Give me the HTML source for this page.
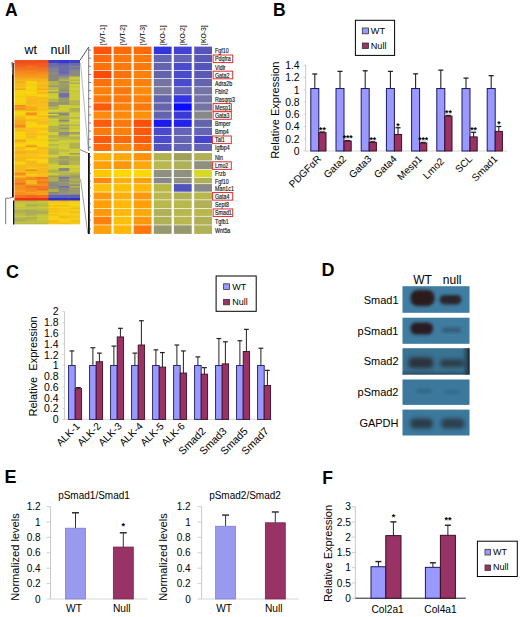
<!DOCTYPE html><html><head><meta charset="utf-8"><style>html,body{margin:0;padding:0;background:#fff;}svg{display:block;font-family:"Liberation Sans",sans-serif;}</style></head><body><svg width="520" height="617" viewBox="0 0 520 617"><rect width="520" height="617" fill="#fff"/><text x="5" y="16.4" font-size="17.5" text-anchor="start" font-weight="bold" fill="#000">A</text>
<text x="24.5" y="53.5" font-size="12.5" text-anchor="start" font-weight="normal" fill="#000">wt</text>
<text x="50.5" y="53.5" font-size="12.5" text-anchor="start" font-weight="normal" fill="#000">null</text>
<rect x="14.60" y="60.00" width="11.53" height="2.10" fill="#f14f1e"/>
<rect x="48.00" y="60.00" width="11.07" height="2.10" fill="#3c3cc3"/>
<rect x="25.73" y="60.00" width="11.53" height="2.10" fill="#f5531e"/>
<rect x="58.67" y="60.00" width="11.07" height="2.10" fill="#3535d5"/>
<rect x="36.87" y="60.00" width="11.53" height="2.10" fill="#f14f1e"/>
<rect x="69.33" y="60.00" width="10.67" height="2.10" fill="#3e3ec5"/>
<rect x="14.60" y="61.50" width="11.53" height="2.10" fill="#ef4d1e"/>
<rect x="48.00" y="61.50" width="11.07" height="2.10" fill="#4040c7"/>
<rect x="25.73" y="61.50" width="11.53" height="2.10" fill="#ef4d1e"/>
<rect x="58.67" y="61.50" width="11.07" height="2.10" fill="#3636d6"/>
<rect x="36.87" y="61.50" width="11.53" height="2.10" fill="#ee4c1e"/>
<rect x="69.33" y="61.50" width="10.67" height="2.10" fill="#4040c7"/>
<rect x="14.60" y="63.00" width="11.53" height="2.10" fill="#ee531e"/>
<rect x="48.00" y="63.00" width="11.07" height="2.10" fill="#6c6ca6"/>
<rect x="25.73" y="63.00" width="11.53" height="2.10" fill="#f0551e"/>
<rect x="58.67" y="63.00" width="11.07" height="2.10" fill="#5757c5"/>
<rect x="36.87" y="63.00" width="11.53" height="2.10" fill="#f65b1e"/>
<rect x="69.33" y="63.00" width="10.67" height="2.10" fill="#6b6ba5"/>
<rect x="14.60" y="64.50" width="11.53" height="2.10" fill="#f15f1e"/>
<rect x="48.00" y="64.50" width="11.07" height="2.10" fill="#6b6ba5"/>
<rect x="25.73" y="64.50" width="11.53" height="2.10" fill="#f4621e"/>
<rect x="58.67" y="64.50" width="11.07" height="2.10" fill="#6b6ba5"/>
<rect x="36.87" y="64.50" width="11.53" height="2.10" fill="#ef5d1e"/>
<rect x="69.33" y="64.50" width="10.67" height="2.10" fill="#6d6da7"/>
<rect x="14.60" y="66.00" width="11.53" height="2.10" fill="#ee661e"/>
<rect x="48.00" y="66.00" width="11.07" height="2.10" fill="#7272ac"/>
<rect x="25.73" y="66.00" width="11.53" height="2.10" fill="#f76e1e"/>
<rect x="58.67" y="66.00" width="11.07" height="2.10" fill="#6b6ba5"/>
<rect x="36.87" y="66.00" width="11.53" height="2.10" fill="#ed651e"/>
<rect x="69.33" y="66.00" width="10.67" height="2.10" fill="#82829b"/>
<rect x="14.60" y="67.50" width="11.53" height="2.10" fill="#f5751e"/>
<rect x="48.00" y="67.50" width="11.07" height="2.10" fill="#7d7d96"/>
<rect x="25.73" y="67.50" width="11.53" height="2.10" fill="#f3741e"/>
<rect x="58.67" y="67.50" width="11.07" height="2.10" fill="#6c6ca6"/>
<rect x="36.87" y="67.50" width="11.53" height="2.10" fill="#f1721e"/>
<rect x="69.33" y="67.50" width="10.67" height="2.10" fill="#7070aa"/>
<rect x="14.60" y="69.00" width="11.53" height="2.10" fill="#ef761e"/>
<rect x="48.00" y="69.00" width="11.07" height="2.10" fill="#82829b"/>
<rect x="25.73" y="69.00" width="11.53" height="2.10" fill="#f0761e"/>
<rect x="58.67" y="69.00" width="11.07" height="2.10" fill="#6a6aa4"/>
<rect x="36.87" y="69.00" width="11.53" height="2.10" fill="#ef761e"/>
<rect x="69.33" y="69.00" width="10.67" height="2.10" fill="#808099"/>
<rect x="14.60" y="70.50" width="11.53" height="2.10" fill="#f7841e"/>
<rect x="48.00" y="70.50" width="11.07" height="2.10" fill="#81818b"/>
<rect x="25.73" y="70.50" width="11.53" height="2.10" fill="#f8851e"/>
<rect x="58.67" y="70.50" width="11.07" height="2.10" fill="#6868b8"/>
<rect x="36.87" y="70.50" width="11.53" height="2.10" fill="#f27f1e"/>
<rect x="69.33" y="70.50" width="10.67" height="2.10" fill="#89897a"/>
<rect x="14.60" y="72.00" width="11.53" height="2.10" fill="#f5881e"/>
<rect x="48.00" y="72.00" width="11.07" height="2.10" fill="#8c8c7d"/>
<rect x="25.73" y="72.00" width="11.53" height="2.10" fill="#f1841e"/>
<rect x="58.67" y="72.00" width="11.07" height="2.10" fill="#6565b5"/>
<rect x="36.87" y="72.00" width="11.53" height="2.10" fill="#f78a1e"/>
<rect x="69.33" y="72.00" width="10.67" height="2.10" fill="#8a8a7b"/>
<rect x="14.60" y="73.50" width="11.53" height="2.10" fill="#f7911e"/>
<rect x="48.00" y="73.50" width="11.07" height="2.10" fill="#8b8b7c"/>
<rect x="25.73" y="73.50" width="11.53" height="2.10" fill="#f58f1e"/>
<rect x="58.67" y="73.50" width="11.07" height="2.10" fill="#7474ab"/>
<rect x="36.87" y="73.50" width="11.53" height="2.10" fill="#f7911e"/>
<rect x="69.33" y="73.50" width="10.67" height="2.10" fill="#8b8b7c"/>
<rect x="14.60" y="75.00" width="11.53" height="2.10" fill="#f4961d"/>
<rect x="48.00" y="75.00" width="11.07" height="2.10" fill="#82828c"/>
<rect x="25.73" y="75.00" width="11.53" height="2.10" fill="#f5971d"/>
<rect x="58.67" y="75.00" width="11.07" height="2.10" fill="#7c7cb3"/>
<rect x="36.87" y="75.00" width="11.53" height="2.10" fill="#f7991d"/>
<rect x="69.33" y="75.00" width="10.67" height="2.10" fill="#8d8d7e"/>
<rect x="14.60" y="76.50" width="11.53" height="2.10" fill="#f5a01c"/>
<rect x="48.00" y="76.50" width="11.07" height="2.10" fill="#89897a"/>
<rect x="25.73" y="76.50" width="11.53" height="2.10" fill="#f49f1c"/>
<rect x="58.67" y="76.50" width="11.07" height="2.10" fill="#999967"/>
<rect x="36.87" y="76.50" width="11.53" height="2.10" fill="#f19c1c"/>
<rect x="69.33" y="76.50" width="10.67" height="2.10" fill="#c9c936"/>
<rect x="14.60" y="78.00" width="11.53" height="2.10" fill="#f5a81c"/>
<rect x="48.00" y="78.00" width="11.07" height="2.10" fill="#888879"/>
<rect x="25.73" y="78.00" width="11.53" height="2.10" fill="#f9ad1c"/>
<rect x="58.67" y="78.00" width="11.07" height="2.10" fill="#9f9f6d"/>
<rect x="36.87" y="78.00" width="11.53" height="2.10" fill="#f6aa1c"/>
<rect x="69.33" y="78.00" width="10.67" height="2.10" fill="#cdcd3a"/>
<rect x="14.60" y="79.50" width="11.53" height="2.10" fill="#f9b51b"/>
<rect x="48.00" y="79.50" width="11.07" height="2.10" fill="#888879"/>
<rect x="25.73" y="79.50" width="11.53" height="2.10" fill="#f7b31b"/>
<rect x="58.67" y="79.50" width="11.07" height="2.10" fill="#b7b753"/>
<rect x="36.87" y="79.50" width="11.53" height="2.10" fill="#f7b31b"/>
<rect x="69.33" y="79.50" width="10.67" height="2.10" fill="#b5b551"/>
<rect x="14.60" y="81.00" width="11.53" height="2.10" fill="#f2ae1b"/>
<rect x="48.00" y="81.00" width="11.07" height="2.10" fill="#b1b14d"/>
<rect x="25.73" y="81.00" width="11.53" height="2.10" fill="#f8d310"/>
<rect x="58.67" y="81.00" width="11.07" height="2.10" fill="#969664"/>
<rect x="36.87" y="81.00" width="11.53" height="2.10" fill="#f3b81a"/>
<rect x="69.33" y="81.00" width="10.67" height="2.10" fill="#cdcd3a"/>
<rect x="14.60" y="82.50" width="11.53" height="2.10" fill="#f2b71a"/>
<rect x="48.00" y="82.50" width="11.07" height="2.10" fill="#b2b24e"/>
<rect x="25.73" y="82.50" width="11.53" height="2.10" fill="#f6d110"/>
<rect x="58.67" y="82.50" width="11.07" height="2.10" fill="#9e9e6c"/>
<rect x="36.87" y="82.50" width="11.53" height="2.10" fill="#fcc11a"/>
<rect x="69.33" y="82.50" width="10.67" height="2.10" fill="#afaf4b"/>
<rect x="14.60" y="84.00" width="11.53" height="2.10" fill="#f8bd1a"/>
<rect x="48.00" y="84.00" width="11.07" height="2.10" fill="#b2b24e"/>
<rect x="25.73" y="84.00" width="11.53" height="2.10" fill="#f3ce10"/>
<rect x="58.67" y="84.00" width="11.07" height="2.10" fill="#9e9e6c"/>
<rect x="36.87" y="84.00" width="11.53" height="2.10" fill="#f4b91a"/>
<rect x="69.33" y="84.00" width="10.67" height="2.10" fill="#cfcf3c"/>
<rect x="14.60" y="85.50" width="11.53" height="2.10" fill="#f4b91a"/>
<rect x="48.00" y="85.50" width="11.07" height="2.10" fill="#9b9b69"/>
<rect x="25.73" y="85.50" width="11.53" height="2.10" fill="#f7d210"/>
<rect x="58.67" y="85.50" width="11.07" height="2.10" fill="#9b9b69"/>
<rect x="36.87" y="85.50" width="11.53" height="2.10" fill="#f5ba1a"/>
<rect x="69.33" y="85.50" width="10.67" height="2.10" fill="#c9c936"/>
<rect x="14.60" y="87.00" width="11.53" height="2.10" fill="#fbc01a"/>
<rect x="48.00" y="87.00" width="11.07" height="2.10" fill="#b5b551"/>
<rect x="25.73" y="87.00" width="11.53" height="2.10" fill="#f9d410"/>
<rect x="58.67" y="87.00" width="11.07" height="2.10" fill="#9b9b69"/>
<rect x="36.87" y="87.00" width="11.53" height="2.10" fill="#fabf1a"/>
<rect x="69.33" y="87.00" width="10.67" height="2.10" fill="#cccc39"/>
<rect x="14.60" y="88.50" width="11.53" height="2.10" fill="#f3a51c"/>
<rect x="48.00" y="88.50" width="11.07" height="2.10" fill="#b6b652"/>
<rect x="25.73" y="88.50" width="11.53" height="2.10" fill="#f8d310"/>
<rect x="58.67" y="88.50" width="11.07" height="2.10" fill="#989866"/>
<rect x="36.87" y="88.50" width="11.53" height="2.10" fill="#f6a81c"/>
<rect x="69.33" y="88.50" width="10.67" height="2.10" fill="#d1d13e"/>
<rect x="14.60" y="90.00" width="11.53" height="2.10" fill="#f8d310"/>
<rect x="48.00" y="90.00" width="11.07" height="2.10" fill="#cece3b"/>
<rect x="25.73" y="90.00" width="11.53" height="2.10" fill="#f3ce10"/>
<rect x="58.67" y="90.00" width="11.07" height="2.10" fill="#8c8c7d"/>
<rect x="36.87" y="90.00" width="11.53" height="2.10" fill="#f2cd10"/>
<rect x="69.33" y="90.00" width="10.67" height="2.10" fill="#c9c936"/>
<rect x="14.60" y="91.50" width="11.53" height="2.10" fill="#f9d410"/>
<rect x="48.00" y="91.50" width="11.07" height="2.10" fill="#9d9d6b"/>
<rect x="25.73" y="91.50" width="11.53" height="2.10" fill="#fcd710"/>
<rect x="58.67" y="91.50" width="11.07" height="2.10" fill="#9c9c6a"/>
<rect x="36.87" y="91.50" width="11.53" height="2.10" fill="#f5ba1a"/>
<rect x="69.33" y="91.50" width="10.67" height="2.10" fill="#cbcb38"/>
<rect x="14.60" y="93.00" width="11.53" height="2.10" fill="#f6d110"/>
<rect x="48.00" y="93.00" width="11.07" height="2.10" fill="#c8c835"/>
<rect x="25.73" y="93.00" width="11.53" height="2.10" fill="#f8d310"/>
<rect x="58.67" y="93.00" width="11.07" height="2.10" fill="#7171ab"/>
<rect x="36.87" y="93.00" width="11.53" height="2.10" fill="#f7bc1a"/>
<rect x="69.33" y="93.00" width="10.67" height="2.10" fill="#cdcd3a"/>
<rect x="14.60" y="94.50" width="11.53" height="2.10" fill="#f7d210"/>
<rect x="48.00" y="94.50" width="11.07" height="2.10" fill="#cbcb38"/>
<rect x="25.73" y="94.50" width="11.53" height="2.10" fill="#f6d110"/>
<rect x="58.67" y="94.50" width="11.07" height="2.10" fill="#6e6ea8"/>
<rect x="36.87" y="94.50" width="11.53" height="2.10" fill="#fbd610"/>
<rect x="69.33" y="94.50" width="10.67" height="2.10" fill="#cccc39"/>
<rect x="14.60" y="96.00" width="11.53" height="2.10" fill="#f3ce10"/>
<rect x="48.00" y="96.00" width="11.07" height="2.10" fill="#cdcd3a"/>
<rect x="25.73" y="96.00" width="11.53" height="2.10" fill="#f8bd1a"/>
<rect x="58.67" y="96.00" width="11.07" height="2.10" fill="#6f6fa9"/>
<rect x="36.87" y="96.00" width="11.53" height="2.10" fill="#f5d010"/>
<rect x="69.33" y="96.00" width="10.67" height="2.10" fill="#cbcb38"/>
<rect x="14.60" y="97.50" width="11.53" height="2.10" fill="#f7d210"/>
<rect x="48.00" y="97.50" width="11.07" height="2.10" fill="#cbcb38"/>
<rect x="25.73" y="97.50" width="11.53" height="2.10" fill="#f9be1a"/>
<rect x="58.67" y="97.50" width="11.07" height="2.10" fill="#9d9d6b"/>
<rect x="36.87" y="97.50" width="11.53" height="2.10" fill="#f2b71a"/>
<rect x="69.33" y="97.50" width="10.67" height="2.10" fill="#cccc39"/>
<rect x="14.60" y="99.00" width="11.53" height="2.10" fill="#f7d210"/>
<rect x="48.00" y="99.00" width="11.07" height="2.10" fill="#b1b14d"/>
<rect x="25.73" y="99.00" width="11.53" height="2.10" fill="#f3b81a"/>
<rect x="58.67" y="99.00" width="11.07" height="2.10" fill="#9a9a68"/>
<rect x="36.87" y="99.00" width="11.53" height="2.10" fill="#f7bc1a"/>
<rect x="69.33" y="99.00" width="10.67" height="2.10" fill="#cbcb38"/>
<rect x="14.60" y="100.50" width="11.53" height="2.10" fill="#f9d410"/>
<rect x="48.00" y="100.50" width="11.07" height="2.10" fill="#b6b652"/>
<rect x="25.73" y="100.50" width="11.53" height="2.10" fill="#f4b91a"/>
<rect x="58.67" y="100.50" width="11.07" height="2.10" fill="#9d9d6b"/>
<rect x="36.87" y="100.50" width="11.53" height="2.10" fill="#f8bd1a"/>
<rect x="69.33" y="100.50" width="10.67" height="2.10" fill="#b1b14d"/>
<rect x="14.60" y="102.00" width="11.53" height="2.10" fill="#f7d210"/>
<rect x="48.00" y="102.00" width="11.07" height="2.10" fill="#979765"/>
<rect x="25.73" y="102.00" width="11.53" height="2.10" fill="#f3b81a"/>
<rect x="58.67" y="102.00" width="11.07" height="2.10" fill="#969664"/>
<rect x="36.87" y="102.00" width="11.53" height="2.10" fill="#f5ba1a"/>
<rect x="69.33" y="102.00" width="10.67" height="2.10" fill="#b6b652"/>
<rect x="14.60" y="103.50" width="11.53" height="2.10" fill="#f3ce10"/>
<rect x="48.00" y="103.50" width="11.07" height="2.10" fill="#999967"/>
<rect x="25.73" y="103.50" width="11.53" height="2.10" fill="#f9be1a"/>
<rect x="58.67" y="103.50" width="11.07" height="2.10" fill="#9a9a68"/>
<rect x="36.87" y="103.50" width="11.53" height="2.10" fill="#fbc01a"/>
<rect x="69.33" y="103.50" width="10.67" height="2.10" fill="#b1b14d"/>
<rect x="14.60" y="105.00" width="11.53" height="2.10" fill="#f2891e"/>
<rect x="48.00" y="105.00" width="11.07" height="2.10" fill="#989866"/>
<rect x="25.73" y="105.00" width="11.53" height="2.10" fill="#fbc01a"/>
<rect x="58.67" y="105.00" width="11.07" height="2.10" fill="#d1d13e"/>
<rect x="36.87" y="105.00" width="11.53" height="2.10" fill="#f4b91a"/>
<rect x="69.33" y="105.00" width="10.67" height="2.10" fill="#c9c936"/>
<rect x="14.60" y="106.50" width="11.53" height="2.10" fill="#f2a41c"/>
<rect x="48.00" y="106.50" width="11.07" height="2.10" fill="#b7b753"/>
<rect x="25.73" y="106.50" width="11.53" height="2.10" fill="#f7a91c"/>
<rect x="58.67" y="106.50" width="11.07" height="2.10" fill="#c8c835"/>
<rect x="36.87" y="106.50" width="11.53" height="2.10" fill="#fcc11a"/>
<rect x="69.33" y="106.50" width="10.67" height="2.10" fill="#cdcd3a"/>
<rect x="14.60" y="108.00" width="11.53" height="2.10" fill="#f1881e"/>
<rect x="48.00" y="108.00" width="11.07" height="2.10" fill="#afaf4b"/>
<rect x="25.73" y="108.00" width="11.53" height="2.10" fill="#f9ab1c"/>
<rect x="58.67" y="108.00" width="11.07" height="2.10" fill="#d1d13e"/>
<rect x="36.87" y="108.00" width="11.53" height="2.10" fill="#f9be1a"/>
<rect x="69.33" y="108.00" width="10.67" height="2.10" fill="#aeae4a"/>
<rect x="14.60" y="109.50" width="11.53" height="2.10" fill="#f2b71a"/>
<rect x="48.00" y="109.50" width="11.07" height="2.10" fill="#d2d23f"/>
<rect x="25.73" y="109.50" width="11.53" height="2.10" fill="#f8aa1c"/>
<rect x="58.67" y="109.50" width="11.07" height="2.10" fill="#caca37"/>
<rect x="36.87" y="109.50" width="11.53" height="2.10" fill="#f9be1a"/>
<rect x="69.33" y="109.50" width="10.67" height="2.10" fill="#b1b14d"/>
<rect x="14.60" y="111.00" width="11.53" height="2.10" fill="#f6d110"/>
<rect x="48.00" y="111.00" width="11.07" height="2.10" fill="#cfcf3c"/>
<rect x="25.73" y="111.00" width="11.53" height="2.10" fill="#f3ce10"/>
<rect x="58.67" y="111.00" width="11.07" height="2.10" fill="#c8c835"/>
<rect x="36.87" y="111.00" width="11.53" height="2.10" fill="#f3ce10"/>
<rect x="69.33" y="111.00" width="10.67" height="2.10" fill="#b5b551"/>
<rect x="14.60" y="112.50" width="11.53" height="2.10" fill="#fad510"/>
<rect x="48.00" y="112.50" width="11.07" height="2.10" fill="#9a9a68"/>
<rect x="25.73" y="112.50" width="11.53" height="2.10" fill="#f38a1e"/>
<rect x="58.67" y="112.50" width="11.07" height="2.10" fill="#8c8c7d"/>
<rect x="36.87" y="112.50" width="11.53" height="2.10" fill="#f4cf10"/>
<rect x="69.33" y="112.50" width="10.67" height="2.10" fill="#d0d03d"/>
<rect x="14.60" y="114.00" width="11.53" height="2.10" fill="#f7d210"/>
<rect x="48.00" y="114.00" width="11.07" height="2.10" fill="#d2d23f"/>
<rect x="25.73" y="114.00" width="11.53" height="2.10" fill="#f9901e"/>
<rect x="58.67" y="114.00" width="11.07" height="2.10" fill="#888879"/>
<rect x="36.87" y="114.00" width="11.53" height="2.10" fill="#fad510"/>
<rect x="69.33" y="114.00" width="10.67" height="2.10" fill="#caca37"/>
<rect x="14.60" y="115.50" width="11.53" height="2.10" fill="#fabf1a"/>
<rect x="48.00" y="115.50" width="11.07" height="2.10" fill="#9a9a68"/>
<rect x="25.73" y="115.50" width="11.53" height="2.10" fill="#f9d410"/>
<rect x="58.67" y="115.50" width="11.07" height="2.10" fill="#b5b551"/>
<rect x="36.87" y="115.50" width="11.53" height="2.10" fill="#f4b91a"/>
<rect x="69.33" y="115.50" width="10.67" height="2.10" fill="#d1d13e"/>
<rect x="14.60" y="117.00" width="11.53" height="2.10" fill="#f5ba1a"/>
<rect x="48.00" y="117.00" width="11.07" height="2.10" fill="#afaf4b"/>
<rect x="25.73" y="117.00" width="11.53" height="2.10" fill="#fad510"/>
<rect x="58.67" y="117.00" width="11.07" height="2.10" fill="#afaf4b"/>
<rect x="36.87" y="117.00" width="11.53" height="2.10" fill="#f4cf10"/>
<rect x="69.33" y="117.00" width="10.67" height="2.10" fill="#b5b551"/>
<rect x="14.60" y="118.50" width="11.53" height="2.10" fill="#f2b71a"/>
<rect x="48.00" y="118.50" width="11.07" height="2.10" fill="#d1d13e"/>
<rect x="25.73" y="118.50" width="11.53" height="2.10" fill="#f9be1a"/>
<rect x="58.67" y="118.50" width="11.07" height="2.10" fill="#adad49"/>
<rect x="36.87" y="118.50" width="11.53" height="2.10" fill="#fabf1a"/>
<rect x="69.33" y="118.50" width="10.67" height="2.10" fill="#cece3b"/>
<rect x="14.60" y="120.00" width="11.53" height="2.10" fill="#f6a81c"/>
<rect x="48.00" y="120.00" width="11.07" height="2.10" fill="#caca37"/>
<rect x="25.73" y="120.00" width="11.53" height="2.10" fill="#f4b91a"/>
<rect x="58.67" y="120.00" width="11.07" height="2.10" fill="#888879"/>
<rect x="36.87" y="120.00" width="11.53" height="2.10" fill="#fbc01a"/>
<rect x="69.33" y="120.00" width="10.67" height="2.10" fill="#d2d23f"/>
<rect x="14.60" y="121.50" width="11.53" height="2.10" fill="#f4a61c"/>
<rect x="48.00" y="121.50" width="11.07" height="2.10" fill="#cbcb38"/>
<rect x="25.73" y="121.50" width="11.53" height="2.10" fill="#f8d310"/>
<rect x="58.67" y="121.50" width="11.07" height="2.10" fill="#b5b551"/>
<rect x="36.87" y="121.50" width="11.53" height="2.10" fill="#f4b91a"/>
<rect x="69.33" y="121.50" width="10.67" height="2.10" fill="#cbcb38"/>
<rect x="14.60" y="123.00" width="11.53" height="2.10" fill="#f9ab1c"/>
<rect x="48.00" y="123.00" width="11.07" height="2.10" fill="#cece3b"/>
<rect x="25.73" y="123.00" width="11.53" height="2.10" fill="#f6d110"/>
<rect x="58.67" y="123.00" width="11.07" height="2.10" fill="#c8c835"/>
<rect x="36.87" y="123.00" width="11.53" height="2.10" fill="#f8bd1a"/>
<rect x="69.33" y="123.00" width="10.67" height="2.10" fill="#cece3b"/>
<rect x="14.60" y="124.50" width="11.53" height="2.10" fill="#f78e1e"/>
<rect x="48.00" y="124.50" width="11.07" height="2.10" fill="#cbcb38"/>
<rect x="25.73" y="124.50" width="11.53" height="2.10" fill="#fad510"/>
<rect x="58.67" y="124.50" width="11.07" height="2.10" fill="#9a9a68"/>
<rect x="36.87" y="124.50" width="11.53" height="2.10" fill="#f6d110"/>
<rect x="69.33" y="124.50" width="10.67" height="2.10" fill="#b4b450"/>
<rect x="14.60" y="126.00" width="11.53" height="2.10" fill="#f1881e"/>
<rect x="48.00" y="126.00" width="11.07" height="2.10" fill="#afaf4b"/>
<rect x="25.73" y="126.00" width="11.53" height="2.10" fill="#f8d310"/>
<rect x="58.67" y="126.00" width="11.07" height="2.10" fill="#b4b450"/>
<rect x="36.87" y="126.00" width="11.53" height="2.10" fill="#fbd610"/>
<rect x="69.33" y="126.00" width="10.67" height="2.10" fill="#cdcd3a"/>
<rect x="14.60" y="127.50" width="11.53" height="2.10" fill="#f8bd1a"/>
<rect x="48.00" y="127.50" width="11.07" height="2.10" fill="#b4b450"/>
<rect x="25.73" y="127.50" width="11.53" height="2.10" fill="#f9be1a"/>
<rect x="58.67" y="127.50" width="11.07" height="2.10" fill="#919182"/>
<rect x="36.87" y="127.50" width="11.53" height="2.10" fill="#f9be1a"/>
<rect x="69.33" y="127.50" width="10.67" height="2.10" fill="#c9c936"/>
<rect x="14.60" y="129.00" width="11.53" height="2.10" fill="#f4b91a"/>
<rect x="48.00" y="129.00" width="11.07" height="2.10" fill="#b0b04c"/>
<rect x="25.73" y="129.00" width="11.53" height="2.10" fill="#fabf1a"/>
<rect x="58.67" y="129.00" width="11.07" height="2.10" fill="#afaf4b"/>
<rect x="36.87" y="129.00" width="11.53" height="2.10" fill="#f9be1a"/>
<rect x="69.33" y="129.00" width="10.67" height="2.10" fill="#cfcf3c"/>
<rect x="14.60" y="130.50" width="11.53" height="2.10" fill="#fabf1a"/>
<rect x="48.00" y="130.50" width="11.07" height="2.10" fill="#aeae4a"/>
<rect x="25.73" y="130.50" width="11.53" height="2.10" fill="#f9be1a"/>
<rect x="58.67" y="130.50" width="11.07" height="2.10" fill="#b3b34f"/>
<rect x="36.87" y="130.50" width="11.53" height="2.10" fill="#f7d210"/>
<rect x="69.33" y="130.50" width="10.67" height="2.10" fill="#d2d23f"/>
<rect x="14.60" y="132.00" width="11.53" height="2.10" fill="#fbd610"/>
<rect x="48.00" y="132.00" width="11.07" height="2.10" fill="#cece3b"/>
<rect x="25.73" y="132.00" width="11.53" height="2.10" fill="#fbc01a"/>
<rect x="58.67" y="132.00" width="11.07" height="2.10" fill="#8c8c7d"/>
<rect x="36.87" y="132.00" width="11.53" height="2.10" fill="#f5d010"/>
<rect x="69.33" y="132.00" width="10.67" height="2.10" fill="#9a9a68"/>
<rect x="14.60" y="133.50" width="11.53" height="2.10" fill="#f5d010"/>
<rect x="48.00" y="133.50" width="11.07" height="2.10" fill="#cfcf3c"/>
<rect x="25.73" y="133.50" width="11.53" height="2.10" fill="#f4b91a"/>
<rect x="58.67" y="133.50" width="11.07" height="2.10" fill="#909081"/>
<rect x="36.87" y="133.50" width="11.53" height="2.10" fill="#f9be1a"/>
<rect x="69.33" y="133.50" width="10.67" height="2.10" fill="#b4b450"/>
<rect x="14.60" y="135.00" width="11.53" height="2.10" fill="#fcd710"/>
<rect x="48.00" y="135.00" width="11.07" height="2.10" fill="#b6b652"/>
<rect x="25.73" y="135.00" width="11.53" height="2.10" fill="#fbc01a"/>
<rect x="58.67" y="135.00" width="11.07" height="2.10" fill="#a0a06e"/>
<rect x="36.87" y="135.00" width="11.53" height="2.10" fill="#f4cf10"/>
<rect x="69.33" y="135.00" width="10.67" height="2.10" fill="#d0d03d"/>
<rect x="14.60" y="136.50" width="11.53" height="2.10" fill="#f6d110"/>
<rect x="48.00" y="136.50" width="11.07" height="2.10" fill="#b5b551"/>
<rect x="25.73" y="136.50" width="11.53" height="2.10" fill="#f4b91a"/>
<rect x="58.67" y="136.50" width="11.07" height="2.10" fill="#b5b551"/>
<rect x="36.87" y="136.50" width="11.53" height="2.10" fill="#fad510"/>
<rect x="69.33" y="136.50" width="10.67" height="2.10" fill="#b2b24e"/>
<rect x="14.60" y="138.00" width="11.53" height="2.10" fill="#f7d210"/>
<rect x="48.00" y="138.00" width="11.07" height="2.10" fill="#cccc39"/>
<rect x="25.73" y="138.00" width="11.53" height="2.10" fill="#f2cd10"/>
<rect x="58.67" y="138.00" width="11.07" height="2.10" fill="#b5b551"/>
<rect x="36.87" y="138.00" width="11.53" height="2.10" fill="#f7d210"/>
<rect x="69.33" y="138.00" width="10.67" height="2.10" fill="#b2b24e"/>
<rect x="14.60" y="139.50" width="11.53" height="2.10" fill="#f5a71c"/>
<rect x="48.00" y="139.50" width="11.07" height="2.10" fill="#b2b24e"/>
<rect x="25.73" y="139.50" width="11.53" height="2.10" fill="#f4cf10"/>
<rect x="58.67" y="139.50" width="11.07" height="2.10" fill="#caca37"/>
<rect x="36.87" y="139.50" width="11.53" height="2.10" fill="#f3ce10"/>
<rect x="69.33" y="139.50" width="10.67" height="2.10" fill="#c9c936"/>
<rect x="14.60" y="141.00" width="11.53" height="2.10" fill="#faac1c"/>
<rect x="48.00" y="141.00" width="11.07" height="2.10" fill="#c9c936"/>
<rect x="25.73" y="141.00" width="11.53" height="2.10" fill="#f9d410"/>
<rect x="58.67" y="141.00" width="11.07" height="2.10" fill="#d1d13e"/>
<rect x="36.87" y="141.00" width="11.53" height="2.10" fill="#f9d410"/>
<rect x="69.33" y="141.00" width="10.67" height="2.10" fill="#d0d03d"/>
<rect x="14.60" y="142.50" width="11.53" height="2.10" fill="#f4cf10"/>
<rect x="48.00" y="142.50" width="11.07" height="2.10" fill="#d1d13e"/>
<rect x="25.73" y="142.50" width="11.53" height="2.10" fill="#f8d310"/>
<rect x="58.67" y="142.50" width="11.07" height="2.10" fill="#c9c936"/>
<rect x="36.87" y="142.50" width="11.53" height="2.10" fill="#f9d410"/>
<rect x="69.33" y="142.50" width="10.67" height="2.10" fill="#b5b551"/>
<rect x="14.60" y="144.00" width="11.53" height="2.10" fill="#fad510"/>
<rect x="48.00" y="144.00" width="11.07" height="2.10" fill="#b6b652"/>
<rect x="25.73" y="144.00" width="11.53" height="2.10" fill="#f4cf10"/>
<rect x="58.67" y="144.00" width="11.07" height="2.10" fill="#cccc39"/>
<rect x="36.87" y="144.00" width="11.53" height="2.10" fill="#f9d410"/>
<rect x="69.33" y="144.00" width="10.67" height="2.10" fill="#b0b04c"/>
<rect x="14.60" y="145.50" width="11.53" height="2.10" fill="#f4cf10"/>
<rect x="48.00" y="145.50" width="11.07" height="2.10" fill="#caca37"/>
<rect x="25.73" y="145.50" width="11.53" height="2.10" fill="#f88f1e"/>
<rect x="58.67" y="145.50" width="11.07" height="2.10" fill="#cdcd3a"/>
<rect x="36.87" y="145.50" width="11.53" height="2.10" fill="#fad510"/>
<rect x="69.33" y="145.50" width="10.67" height="2.10" fill="#b3b34f"/>
<rect x="14.60" y="147.00" width="11.53" height="2.10" fill="#f6bb1a"/>
<rect x="48.00" y="147.00" width="11.07" height="2.10" fill="#cbcb38"/>
<rect x="25.73" y="147.00" width="11.53" height="2.10" fill="#f3ce10"/>
<rect x="58.67" y="147.00" width="11.07" height="2.10" fill="#d2d23f"/>
<rect x="36.87" y="147.00" width="11.53" height="2.10" fill="#f5ba1a"/>
<rect x="69.33" y="147.00" width="10.67" height="2.10" fill="#adad49"/>
<rect x="14.60" y="148.50" width="11.53" height="2.10" fill="#fbc01a"/>
<rect x="48.00" y="148.50" width="11.07" height="2.10" fill="#b6b652"/>
<rect x="25.73" y="148.50" width="11.53" height="2.10" fill="#fbd610"/>
<rect x="58.67" y="148.50" width="11.07" height="2.10" fill="#caca37"/>
<rect x="36.87" y="148.50" width="11.53" height="2.10" fill="#f7bc1a"/>
<rect x="69.33" y="148.50" width="10.67" height="2.10" fill="#cfcf3c"/>
<rect x="14.60" y="150.00" width="11.53" height="2.10" fill="#f7bc1a"/>
<rect x="48.00" y="150.00" width="11.07" height="2.10" fill="#b7b753"/>
<rect x="25.73" y="150.00" width="11.53" height="2.10" fill="#fabf1a"/>
<rect x="58.67" y="150.00" width="11.07" height="2.10" fill="#b6b652"/>
<rect x="36.87" y="150.00" width="11.53" height="2.10" fill="#fcc11a"/>
<rect x="69.33" y="150.00" width="10.67" height="2.10" fill="#cdcd3a"/>
<rect x="14.60" y="151.50" width="11.53" height="2.10" fill="#f8aa1c"/>
<rect x="48.00" y="151.50" width="11.07" height="2.10" fill="#b1b14d"/>
<rect x="25.73" y="151.50" width="11.53" height="2.10" fill="#f3b81a"/>
<rect x="58.67" y="151.50" width="11.07" height="2.10" fill="#cdcd3a"/>
<rect x="36.87" y="151.50" width="11.53" height="2.10" fill="#f9be1a"/>
<rect x="69.33" y="151.50" width="10.67" height="2.10" fill="#cece3b"/>
<rect x="14.60" y="153.00" width="11.53" height="2.10" fill="#f2b71a"/>
<rect x="48.00" y="153.00" width="11.07" height="2.10" fill="#b0b04c"/>
<rect x="25.73" y="153.00" width="11.53" height="2.10" fill="#fabf1a"/>
<rect x="58.67" y="153.00" width="11.07" height="2.10" fill="#cdcd3a"/>
<rect x="36.87" y="153.00" width="11.53" height="2.10" fill="#f9be1a"/>
<rect x="69.33" y="153.00" width="10.67" height="2.10" fill="#9d9d6b"/>
<rect x="14.60" y="154.50" width="11.53" height="2.10" fill="#fabf1a"/>
<rect x="48.00" y="154.50" width="11.07" height="2.10" fill="#cece3b"/>
<rect x="25.73" y="154.50" width="11.53" height="2.10" fill="#fbc01a"/>
<rect x="58.67" y="154.50" width="11.07" height="2.10" fill="#d0d03d"/>
<rect x="36.87" y="154.50" width="11.53" height="2.10" fill="#f8d310"/>
<rect x="69.33" y="154.50" width="10.67" height="2.10" fill="#cccc39"/>
<rect x="14.60" y="156.00" width="11.53" height="2.10" fill="#f9be1a"/>
<rect x="48.00" y="156.00" width="11.07" height="2.10" fill="#d0d03d"/>
<rect x="25.73" y="156.00" width="11.53" height="2.10" fill="#f9be1a"/>
<rect x="58.67" y="156.00" width="11.07" height="2.10" fill="#9f9f6d"/>
<rect x="36.87" y="156.00" width="11.53" height="2.10" fill="#fcc11a"/>
<rect x="69.33" y="156.00" width="10.67" height="2.10" fill="#b3b34f"/>
<rect x="14.60" y="157.50" width="11.53" height="2.10" fill="#f3b81a"/>
<rect x="48.00" y="157.50" width="11.07" height="2.10" fill="#b0b04c"/>
<rect x="25.73" y="157.50" width="11.53" height="2.10" fill="#f9be1a"/>
<rect x="58.67" y="157.50" width="11.07" height="2.10" fill="#9d9d6b"/>
<rect x="36.87" y="157.50" width="11.53" height="2.10" fill="#f7bc1a"/>
<rect x="69.33" y="157.50" width="10.67" height="2.10" fill="#adad49"/>
<rect x="14.60" y="159.00" width="11.53" height="2.10" fill="#f2b71a"/>
<rect x="48.00" y="159.00" width="11.07" height="2.10" fill="#b3b34f"/>
<rect x="25.73" y="159.00" width="11.53" height="2.10" fill="#fcd710"/>
<rect x="58.67" y="159.00" width="11.07" height="2.10" fill="#aeae4a"/>
<rect x="36.87" y="159.00" width="11.53" height="2.10" fill="#f7d210"/>
<rect x="69.33" y="159.00" width="10.67" height="2.10" fill="#adad49"/>
<rect x="14.60" y="160.50" width="11.53" height="2.10" fill="#f9be1a"/>
<rect x="48.00" y="160.50" width="11.07" height="2.10" fill="#b3b34f"/>
<rect x="25.73" y="160.50" width="11.53" height="2.10" fill="#f4b91a"/>
<rect x="58.67" y="160.50" width="11.07" height="2.10" fill="#9e9e6c"/>
<rect x="36.87" y="160.50" width="11.53" height="2.10" fill="#f8d310"/>
<rect x="69.33" y="160.50" width="10.67" height="2.10" fill="#b4b450"/>
<rect x="14.60" y="162.00" width="11.53" height="2.10" fill="#fad510"/>
<rect x="48.00" y="162.00" width="11.07" height="2.10" fill="#b3b34f"/>
<rect x="25.73" y="162.00" width="11.53" height="2.10" fill="#f4b91a"/>
<rect x="58.67" y="162.00" width="11.07" height="2.10" fill="#9c9c6a"/>
<rect x="36.87" y="162.00" width="11.53" height="2.10" fill="#f8d310"/>
<rect x="69.33" y="162.00" width="10.67" height="2.10" fill="#b2b24e"/>
<rect x="14.60" y="163.50" width="11.53" height="2.10" fill="#f2cd10"/>
<rect x="48.00" y="163.50" width="11.07" height="2.10" fill="#caca37"/>
<rect x="25.73" y="163.50" width="11.53" height="2.10" fill="#f7bc1a"/>
<rect x="58.67" y="163.50" width="11.07" height="2.10" fill="#989866"/>
<rect x="36.87" y="163.50" width="11.53" height="2.10" fill="#f4b91a"/>
<rect x="69.33" y="163.50" width="10.67" height="2.10" fill="#b5b551"/>
<rect x="14.60" y="165.00" width="11.53" height="2.10" fill="#f6bb1a"/>
<rect x="48.00" y="165.00" width="11.07" height="2.10" fill="#cfcf3c"/>
<rect x="25.73" y="165.00" width="11.53" height="2.10" fill="#f7bc1a"/>
<rect x="58.67" y="165.00" width="11.07" height="2.10" fill="#d0d03d"/>
<rect x="36.87" y="165.00" width="11.53" height="2.10" fill="#f2b71a"/>
<rect x="69.33" y="165.00" width="10.67" height="2.10" fill="#caca37"/>
<rect x="14.60" y="166.50" width="11.53" height="2.10" fill="#f3b81a"/>
<rect x="48.00" y="166.50" width="11.07" height="2.10" fill="#cfcf3c"/>
<rect x="25.73" y="166.50" width="11.53" height="2.10" fill="#fabf1a"/>
<rect x="58.67" y="166.50" width="11.07" height="2.10" fill="#cfcf3c"/>
<rect x="36.87" y="166.50" width="11.53" height="2.10" fill="#fabf1a"/>
<rect x="69.33" y="166.50" width="10.67" height="2.10" fill="#d1d13e"/>
<rect x="14.60" y="168.00" width="11.53" height="2.10" fill="#f4b91a"/>
<rect x="48.00" y="168.00" width="11.07" height="2.10" fill="#cdcd3a"/>
<rect x="25.73" y="168.00" width="11.53" height="2.10" fill="#f3ce10"/>
<rect x="58.67" y="168.00" width="11.07" height="2.10" fill="#89897a"/>
<rect x="36.87" y="168.00" width="11.53" height="2.10" fill="#f5ba1a"/>
<rect x="69.33" y="168.00" width="10.67" height="2.10" fill="#c9c936"/>
<rect x="14.60" y="169.50" width="11.53" height="2.10" fill="#f3b81a"/>
<rect x="48.00" y="169.50" width="11.07" height="2.10" fill="#b3b34f"/>
<rect x="25.73" y="169.50" width="11.53" height="2.10" fill="#f1881e"/>
<rect x="58.67" y="169.50" width="11.07" height="2.10" fill="#89897a"/>
<rect x="36.87" y="169.50" width="11.53" height="2.10" fill="#f3b81a"/>
<rect x="69.33" y="169.50" width="10.67" height="2.10" fill="#cece3b"/>
<rect x="14.60" y="171.00" width="11.53" height="2.10" fill="#f8bd1a"/>
<rect x="48.00" y="171.00" width="11.07" height="2.10" fill="#aeae4a"/>
<rect x="25.73" y="171.00" width="11.53" height="2.10" fill="#f8bd1a"/>
<rect x="58.67" y="171.00" width="11.07" height="2.10" fill="#b7b753"/>
<rect x="36.87" y="171.00" width="11.53" height="2.10" fill="#f2b71a"/>
<rect x="69.33" y="171.00" width="10.67" height="2.10" fill="#cbcb38"/>
<rect x="14.60" y="172.50" width="11.53" height="2.10" fill="#f38a1e"/>
<rect x="48.00" y="172.50" width="11.07" height="2.10" fill="#c8c835"/>
<rect x="25.73" y="172.50" width="11.53" height="2.10" fill="#f3b81a"/>
<rect x="58.67" y="172.50" width="11.07" height="2.10" fill="#b4b450"/>
<rect x="36.87" y="172.50" width="11.53" height="2.10" fill="#f5ba1a"/>
<rect x="69.33" y="172.50" width="10.67" height="2.10" fill="#b5b551"/>
<rect x="14.60" y="174.00" width="11.53" height="2.10" fill="#f58c1e"/>
<rect x="48.00" y="174.00" width="11.07" height="2.10" fill="#cccc39"/>
<rect x="25.73" y="174.00" width="11.53" height="2.10" fill="#f8d310"/>
<rect x="58.67" y="174.00" width="11.07" height="2.10" fill="#b7b753"/>
<rect x="36.87" y="174.00" width="11.53" height="2.10" fill="#fbc01a"/>
<rect x="69.33" y="174.00" width="10.67" height="2.10" fill="#aeae4a"/>
<rect x="14.60" y="175.50" width="11.53" height="2.10" fill="#fcc11a"/>
<rect x="48.00" y="175.50" width="11.07" height="2.10" fill="#9a9a68"/>
<rect x="25.73" y="175.50" width="11.53" height="2.10" fill="#f5ba1a"/>
<rect x="58.67" y="175.50" width="11.07" height="2.10" fill="#9a9a68"/>
<rect x="36.87" y="175.50" width="11.53" height="2.10" fill="#f3b81a"/>
<rect x="69.33" y="175.50" width="10.67" height="2.10" fill="#9a9a68"/>
<rect x="14.60" y="177.00" width="11.53" height="2.10" fill="#faa41c"/>
<rect x="48.00" y="177.00" width="11.07" height="2.10" fill="#afaf4b"/>
<rect x="25.73" y="177.00" width="11.53" height="2.10" fill="#f68d1e"/>
<rect x="58.67" y="177.00" width="11.07" height="2.10" fill="#7171ab"/>
<rect x="36.87" y="177.00" width="11.53" height="2.10" fill="#f06e1e"/>
<rect x="69.33" y="177.00" width="10.67" height="2.10" fill="#9d9d6b"/>
<rect x="14.60" y="178.50" width="11.53" height="2.10" fill="#f38a1e"/>
<rect x="48.00" y="178.50" width="11.07" height="2.10" fill="#aeae4a"/>
<rect x="25.73" y="178.50" width="11.53" height="2.10" fill="#f38a1e"/>
<rect x="58.67" y="178.50" width="11.07" height="2.10" fill="#909081"/>
<rect x="36.87" y="178.50" width="11.53" height="2.10" fill="#f38a1e"/>
<rect x="69.33" y="178.50" width="10.67" height="2.10" fill="#b1b14d"/>
<rect x="14.60" y="180.00" width="11.53" height="2.10" fill="#f68d1e"/>
<rect x="48.00" y="180.00" width="11.07" height="2.10" fill="#b2b24e"/>
<rect x="25.73" y="180.00" width="11.53" height="2.10" fill="#f4b91a"/>
<rect x="58.67" y="180.00" width="11.07" height="2.10" fill="#888879"/>
<rect x="36.87" y="180.00" width="11.53" height="2.10" fill="#f58c1e"/>
<rect x="69.33" y="180.00" width="10.67" height="2.10" fill="#aeae4a"/>
<rect x="14.60" y="181.50" width="11.53" height="2.10" fill="#f48b1e"/>
<rect x="48.00" y="181.50" width="11.07" height="2.10" fill="#8d8d7e"/>
<rect x="25.73" y="181.50" width="11.53" height="2.10" fill="#f3b81a"/>
<rect x="58.67" y="181.50" width="11.07" height="2.10" fill="#9d9d6b"/>
<rect x="36.87" y="181.50" width="11.53" height="2.10" fill="#f7751e"/>
<rect x="69.33" y="181.50" width="10.67" height="2.10" fill="#9e9e6c"/>
<rect x="14.60" y="183.00" width="11.53" height="2.10" fill="#f06e1e"/>
<rect x="48.00" y="183.00" width="11.07" height="2.10" fill="#8e8e7f"/>
<rect x="25.73" y="183.00" width="11.53" height="2.10" fill="#f4b91a"/>
<rect x="58.67" y="183.00" width="11.07" height="2.10" fill="#909081"/>
<rect x="36.87" y="183.00" width="11.53" height="2.10" fill="#f38a1e"/>
<rect x="69.33" y="183.00" width="10.67" height="2.10" fill="#b5b551"/>
<rect x="14.60" y="184.50" width="11.53" height="2.10" fill="#f48b1e"/>
<rect x="48.00" y="184.50" width="11.07" height="2.10" fill="#878778"/>
<rect x="25.73" y="184.50" width="11.53" height="2.10" fill="#f58c1e"/>
<rect x="58.67" y="184.50" width="11.07" height="2.10" fill="#919182"/>
<rect x="36.87" y="184.50" width="11.53" height="2.10" fill="#f9901e"/>
<rect x="69.33" y="184.50" width="10.67" height="2.10" fill="#8c8c7d"/>
<rect x="14.60" y="186.00" width="11.53" height="2.10" fill="#f78e1e"/>
<rect x="48.00" y="186.00" width="11.07" height="2.10" fill="#8e8e7f"/>
<rect x="25.73" y="186.00" width="11.53" height="2.10" fill="#f16f1e"/>
<rect x="58.67" y="186.00" width="11.07" height="2.10" fill="#6b6ba5"/>
<rect x="36.87" y="186.00" width="11.53" height="2.10" fill="#f6741e"/>
<rect x="69.33" y="186.00" width="10.67" height="2.10" fill="#b6b652"/>
<rect x="14.60" y="187.50" width="11.53" height="2.10" fill="#f78e1e"/>
<rect x="48.00" y="187.50" width="11.07" height="2.10" fill="#8f8f80"/>
<rect x="25.73" y="187.50" width="11.53" height="2.10" fill="#f2891e"/>
<rect x="58.67" y="187.50" width="11.07" height="2.10" fill="#8b8b7c"/>
<rect x="36.87" y="187.50" width="11.53" height="2.10" fill="#f7751e"/>
<rect x="69.33" y="187.50" width="10.67" height="2.10" fill="#969664"/>
<rect x="14.60" y="189.00" width="11.53" height="2.10" fill="#f9901e"/>
<rect x="48.00" y="189.00" width="11.07" height="2.10" fill="#aeae4a"/>
<rect x="25.73" y="189.00" width="11.53" height="2.10" fill="#f48b1e"/>
<rect x="58.67" y="189.00" width="11.07" height="2.10" fill="#878778"/>
<rect x="36.87" y="189.00" width="11.53" height="2.10" fill="#f3711e"/>
<rect x="69.33" y="189.00" width="10.67" height="2.10" fill="#9d9d6b"/>
<rect x="14.60" y="190.50" width="11.53" height="2.10" fill="#f6a01c"/>
<rect x="48.00" y="190.50" width="11.07" height="2.10" fill="#afaf4b"/>
<rect x="25.73" y="190.50" width="11.53" height="2.10" fill="#f58c1e"/>
<rect x="58.67" y="190.50" width="11.07" height="2.10" fill="#8f8f80"/>
<rect x="36.87" y="190.50" width="11.53" height="2.10" fill="#f6a01c"/>
<rect x="69.33" y="190.50" width="10.67" height="2.10" fill="#999967"/>
<rect x="14.60" y="192.00" width="11.53" height="2.10" fill="#f78e1e"/>
<rect x="48.00" y="192.00" width="11.07" height="2.10" fill="#888879"/>
<rect x="25.73" y="192.00" width="11.53" height="2.10" fill="#f9a31c"/>
<rect x="58.67" y="192.00" width="11.07" height="2.10" fill="#919182"/>
<rect x="36.87" y="192.00" width="11.53" height="2.10" fill="#f29c1c"/>
<rect x="69.33" y="192.00" width="10.67" height="2.10" fill="#9e9e6c"/>
<rect x="14.60" y="193.50" width="11.53" height="2.10" fill="#f9901e"/>
<rect x="48.00" y="193.50" width="11.07" height="2.10" fill="#8a8a7b"/>
<rect x="25.73" y="193.50" width="11.53" height="2.10" fill="#f88f1e"/>
<rect x="58.67" y="193.50" width="11.07" height="2.10" fill="#909081"/>
<rect x="36.87" y="193.50" width="11.53" height="2.10" fill="#f9a31c"/>
<rect x="69.33" y="193.50" width="10.67" height="2.10" fill="#8c8c7d"/>
<rect x="14.60" y="195.00" width="11.53" height="2.10" fill="#f76e1e"/>
<rect x="48.00" y="195.00" width="11.07" height="2.10" fill="#6161bb"/>
<rect x="25.73" y="195.00" width="11.53" height="2.10" fill="#f0671e"/>
<rect x="58.67" y="195.00" width="11.07" height="2.10" fill="#5e5eb8"/>
<rect x="36.87" y="195.00" width="11.53" height="2.10" fill="#f46b1e"/>
<rect x="69.33" y="195.00" width="10.67" height="2.10" fill="#5c5cb6"/>
<rect x="14.60" y="196.50" width="11.53" height="2.10" fill="#f66d1e"/>
<rect x="48.00" y="196.50" width="11.07" height="2.10" fill="#6464be"/>
<rect x="25.73" y="196.50" width="11.53" height="2.10" fill="#ef661e"/>
<rect x="58.67" y="196.50" width="11.07" height="2.10" fill="#6060ba"/>
<rect x="36.87" y="196.50" width="11.53" height="2.10" fill="#f36a1e"/>
<rect x="69.33" y="196.50" width="10.67" height="2.10" fill="#6161bb"/>
<rect x="14.60" y="198.00" width="11.53" height="2.10" fill="#e63216"/>
<rect x="48.00" y="198.00" width="11.07" height="2.10" fill="#3030cd"/>
<rect x="25.73" y="198.00" width="11.53" height="2.10" fill="#e93516"/>
<rect x="58.67" y="198.00" width="11.07" height="2.10" fill="#3232cf"/>
<rect x="36.87" y="198.00" width="11.53" height="2.10" fill="#ea3616"/>
<rect x="69.33" y="198.00" width="10.67" height="2.10" fill="#2c2cc9"/>
<rect x="14.60" y="199.50" width="11.53" height="2.10" fill="#e93516"/>
<rect x="48.00" y="199.50" width="11.07" height="2.10" fill="#2d2dca"/>
<rect x="25.73" y="199.50" width="11.53" height="2.10" fill="#e53116"/>
<rect x="58.67" y="199.50" width="11.07" height="2.10" fill="#3030cd"/>
<rect x="36.87" y="199.50" width="11.53" height="2.10" fill="#e32f16"/>
<rect x="69.33" y="199.50" width="10.67" height="2.10" fill="#3131ce"/>
<rect x="14.60" y="200.50" width="11.53" height="2.10" fill="#b9b948"/>
<rect x="48.00" y="200.50" width="11.07" height="2.10" fill="#f5c816"/>
<rect x="25.73" y="200.50" width="11.53" height="2.10" fill="#b9b948"/>
<rect x="58.67" y="200.50" width="11.07" height="2.10" fill="#f5be16"/>
<rect x="36.87" y="200.50" width="11.53" height="2.10" fill="#c3c33e"/>
<rect x="69.33" y="200.50" width="10.67" height="2.10" fill="#f5c816"/>
<rect x="14.60" y="202.00" width="11.53" height="2.10" fill="#c3c33e"/>
<rect x="48.00" y="202.00" width="11.07" height="2.10" fill="#f5c816"/>
<rect x="25.73" y="202.00" width="11.53" height="2.10" fill="#c3c33e"/>
<rect x="58.67" y="202.00" width="11.07" height="2.10" fill="#f5c816"/>
<rect x="36.87" y="202.00" width="11.53" height="2.10" fill="#c3c33e"/>
<rect x="69.33" y="202.00" width="10.67" height="2.10" fill="#f5d212"/>
<rect x="14.60" y="203.50" width="11.53" height="2.10" fill="#cdc837"/>
<rect x="48.00" y="203.50" width="11.07" height="2.10" fill="#f5d212"/>
<rect x="25.73" y="203.50" width="11.53" height="2.10" fill="#b9b948"/>
<rect x="58.67" y="203.50" width="11.07" height="2.10" fill="#f5d212"/>
<rect x="36.87" y="203.50" width="11.53" height="2.10" fill="#b9b948"/>
<rect x="69.33" y="203.50" width="10.67" height="2.10" fill="#f5d212"/>
<rect x="14.60" y="205.00" width="11.53" height="2.10" fill="#cdc837"/>
<rect x="48.00" y="205.00" width="11.07" height="2.10" fill="#f5be16"/>
<rect x="25.73" y="205.00" width="11.53" height="2.10" fill="#acac5a"/>
<rect x="58.67" y="205.00" width="11.07" height="2.10" fill="#f5be16"/>
<rect x="36.87" y="205.00" width="11.53" height="2.10" fill="#b9b948"/>
<rect x="69.33" y="205.00" width="10.67" height="2.10" fill="#f5d212"/>
<rect x="14.60" y="206.50" width="11.53" height="2.10" fill="#c3c33e"/>
<rect x="48.00" y="206.50" width="11.07" height="2.10" fill="#f5d212"/>
<rect x="25.73" y="206.50" width="11.53" height="2.10" fill="#c3c33e"/>
<rect x="58.67" y="206.50" width="11.07" height="2.10" fill="#f5d212"/>
<rect x="36.87" y="206.50" width="11.53" height="2.10" fill="#cdc837"/>
<rect x="69.33" y="206.50" width="10.67" height="2.10" fill="#f5c816"/>
<rect x="14.60" y="208.00" width="11.53" height="2.10" fill="#cdc837"/>
<rect x="48.00" y="208.00" width="11.07" height="2.10" fill="#f5be16"/>
<rect x="25.73" y="208.00" width="11.53" height="2.10" fill="#c3c33e"/>
<rect x="58.67" y="208.00" width="11.07" height="2.10" fill="#f5c816"/>
<rect x="36.87" y="208.00" width="11.53" height="2.10" fill="#c3c33e"/>
<rect x="69.33" y="208.00" width="10.67" height="2.10" fill="#f5be16"/>
<rect x="14.60" y="209.50" width="11.53" height="2.10" fill="#acac5a"/>
<rect x="48.00" y="209.50" width="11.07" height="2.10" fill="#f5c816"/>
<rect x="25.73" y="209.50" width="11.53" height="2.10" fill="#acac5a"/>
<rect x="58.67" y="209.50" width="11.07" height="2.10" fill="#f5c816"/>
<rect x="36.87" y="209.50" width="11.53" height="2.10" fill="#b9b948"/>
<rect x="69.33" y="209.50" width="10.67" height="2.10" fill="#f5d212"/>
<rect x="14.60" y="211.00" width="11.53" height="2.10" fill="#acac5a"/>
<rect x="48.00" y="211.00" width="11.07" height="2.10" fill="#f5be16"/>
<rect x="25.73" y="211.00" width="11.53" height="2.10" fill="#acac5a"/>
<rect x="58.67" y="211.00" width="11.07" height="2.10" fill="#f5c816"/>
<rect x="36.87" y="211.00" width="11.53" height="2.10" fill="#acac5a"/>
<rect x="69.33" y="211.00" width="10.67" height="2.10" fill="#f5be16"/>
<rect x="14.60" y="212.50" width="11.53" height="2.10" fill="#b9b948"/>
<rect x="48.00" y="212.50" width="11.07" height="2.10" fill="#f5d212"/>
<rect x="25.73" y="212.50" width="11.53" height="2.10" fill="#acac5a"/>
<rect x="58.67" y="212.50" width="11.07" height="2.10" fill="#f5d212"/>
<rect x="36.87" y="212.50" width="11.53" height="2.10" fill="#acac5a"/>
<rect x="69.33" y="212.50" width="10.67" height="2.10" fill="#f5c816"/>
<rect x="14.60" y="214.00" width="11.53" height="2.10" fill="#b9b948"/>
<rect x="48.00" y="214.00" width="11.07" height="2.10" fill="#f5be16"/>
<rect x="25.73" y="214.00" width="11.53" height="2.10" fill="#acac5a"/>
<rect x="58.67" y="214.00" width="11.07" height="2.10" fill="#f5d212"/>
<rect x="36.87" y="214.00" width="11.53" height="2.10" fill="#c3c33e"/>
<rect x="69.33" y="214.00" width="10.67" height="2.10" fill="#f5d212"/>
<rect x="14.60" y="215.50" width="11.53" height="2.10" fill="#cdc837"/>
<rect x="48.00" y="215.50" width="11.07" height="2.10" fill="#f5d212"/>
<rect x="25.73" y="215.50" width="11.53" height="2.10" fill="#c3c33e"/>
<rect x="58.67" y="215.50" width="11.07" height="2.10" fill="#f5be16"/>
<rect x="36.87" y="215.50" width="11.53" height="2.10" fill="#cdc837"/>
<rect x="69.33" y="215.50" width="10.67" height="2.10" fill="#f5c816"/>
<rect x="14.60" y="217.00" width="11.53" height="2.10" fill="#b9b948"/>
<rect x="48.00" y="217.00" width="11.07" height="2.10" fill="#f5d212"/>
<rect x="25.73" y="217.00" width="11.53" height="2.10" fill="#acac5a"/>
<rect x="58.67" y="217.00" width="11.07" height="2.10" fill="#f5be16"/>
<rect x="36.87" y="217.00" width="11.53" height="2.10" fill="#c3c33e"/>
<rect x="69.33" y="217.00" width="10.67" height="2.10" fill="#f5c816"/>
<rect x="14.60" y="218.50" width="11.53" height="2.10" fill="#acac5a"/>
<rect x="48.00" y="218.50" width="11.07" height="2.10" fill="#f5d212"/>
<rect x="25.73" y="218.50" width="11.53" height="2.10" fill="#b9b948"/>
<rect x="58.67" y="218.50" width="11.07" height="2.10" fill="#f5d212"/>
<rect x="36.87" y="218.50" width="11.53" height="2.10" fill="#cdc837"/>
<rect x="69.33" y="218.50" width="10.67" height="2.10" fill="#f5d212"/>
<rect x="14.60" y="220.00" width="11.53" height="2.10" fill="#acac5a"/>
<rect x="48.00" y="220.00" width="11.07" height="2.10" fill="#f5be16"/>
<rect x="25.73" y="220.00" width="11.53" height="2.10" fill="#b9b948"/>
<rect x="58.67" y="220.00" width="11.07" height="2.10" fill="#f5d212"/>
<rect x="36.87" y="220.00" width="11.53" height="2.10" fill="#c3c33e"/>
<rect x="69.33" y="220.00" width="10.67" height="2.10" fill="#f5be16"/>
<rect x="14.60" y="221.50" width="11.53" height="2.10" fill="#c3c33e"/>
<rect x="48.00" y="221.50" width="11.07" height="2.10" fill="#f5be16"/>
<rect x="25.73" y="221.50" width="11.53" height="2.10" fill="#c3c33e"/>
<rect x="58.67" y="221.50" width="11.07" height="2.10" fill="#f5c816"/>
<rect x="36.87" y="221.50" width="11.53" height="2.10" fill="#c3c33e"/>
<rect x="69.33" y="221.50" width="10.67" height="2.10" fill="#f5c816"/>
<rect x="14.60" y="223.00" width="11.53" height="1.30" fill="#b9b948"/>
<rect x="48.00" y="223.00" width="11.07" height="1.30" fill="#f5c816"/>
<rect x="25.73" y="223.00" width="11.53" height="1.30" fill="#b9b948"/>
<rect x="58.67" y="223.00" width="11.07" height="1.30" fill="#f5be16"/>
<rect x="36.87" y="223.00" width="11.53" height="1.30" fill="#b9b948"/>
<rect x="69.33" y="223.00" width="10.67" height="1.30" fill="#f5c816"/>
<line x1="12.90" y1="63.00" x2="12.90" y2="197.50" stroke="#111" stroke-width="1.8"/>
<line x1="12.20" y1="62.00" x2="12.60" y2="75.00" stroke="#666" stroke-width="0.8"/>
<line x1="13.70" y1="200.50" x2="13.70" y2="224.50" stroke="#111" stroke-width="1.4"/>
<line x1="5.70" y1="198.20" x2="5.70" y2="224.20" stroke="#777" stroke-width="1.0"/>
<line x1="5.70" y1="198.20" x2="9.50" y2="198.20" stroke="#777" stroke-width="1.0"/>
<line x1="9.50" y1="198.20" x2="12.50" y2="197.00" stroke="#777" stroke-width="1.0"/>
<line x1="12.00" y1="62.00" x2="12.60" y2="70.00" stroke="#777" stroke-width="0.8"/>
<line x1="80.00" y1="60.30" x2="88.70" y2="47.00" stroke="#444" stroke-width="0.9"/>
<line x1="80.50" y1="63.00" x2="88.30" y2="150.00" stroke="#999" stroke-width="0.7"/>
<line x1="80.00" y1="149.70" x2="87.80" y2="153.00" stroke="#666" stroke-width="0.8"/>
<line x1="80.50" y1="179.00" x2="87.80" y2="233.50" stroke="#888" stroke-width="0.8"/>
<rect x="93.60" y="46.60" width="17.80" height="7.40" fill="#fa540d"/>
<rect x="113.60" y="46.60" width="17.80" height="7.40" fill="#fd6a06"/>
<rect x="133.70" y="46.60" width="17.80" height="7.40" fill="#fd6a06"/>
<rect x="153.80" y="46.60" width="17.80" height="7.40" fill="#3434dc"/>
<rect x="173.90" y="46.60" width="17.80" height="7.40" fill="#4242d4"/>
<rect x="194.20" y="46.60" width="17.80" height="7.40" fill="#5454bc"/>
<text x="215" y="53.300000000000004" font-size="6.6" text-anchor="start" font-weight="normal" fill="#111" stroke="#111" stroke-width="0.15" textLength="13.6" lengthAdjust="spacingAndGlyphs">Fgf10</text>
<rect x="93.60" y="54.70" width="17.80" height="7.40" fill="#fd6a0a"/>
<rect x="113.60" y="54.70" width="17.80" height="7.40" fill="#fd780c"/>
<rect x="133.70" y="54.70" width="17.80" height="7.40" fill="#fd7a0a"/>
<rect x="153.80" y="54.70" width="17.80" height="7.40" fill="#6464b4"/>
<rect x="173.90" y="54.70" width="17.80" height="7.40" fill="#6464b4"/>
<rect x="194.20" y="54.70" width="17.80" height="7.40" fill="#5a5ab4"/>
<text x="215" y="61.4" font-size="6.6" text-anchor="start" font-weight="normal" fill="#111" stroke="#111" stroke-width="0.15" textLength="15.6" lengthAdjust="spacingAndGlyphs">Pdgfra</text>
<rect x="213.1" y="55.00" width="19.6" height="7.6" fill="none" stroke="#e03030" stroke-width="1"/>
<rect x="93.60" y="62.80" width="17.80" height="7.40" fill="#fd700a"/>
<rect x="113.60" y="62.80" width="17.80" height="7.40" fill="#fd7a0a"/>
<rect x="133.70" y="62.80" width="17.80" height="7.40" fill="#fd7a0a"/>
<rect x="153.80" y="62.80" width="17.80" height="7.40" fill="#6464ac"/>
<rect x="173.90" y="62.80" width="17.80" height="7.40" fill="#4a4acc"/>
<rect x="194.20" y="62.80" width="17.80" height="7.40" fill="#5454bc"/>
<text x="215" y="69.5" font-size="6.6" text-anchor="start" font-weight="normal" fill="#111" stroke="#111" stroke-width="0.15" textLength="10.6" lengthAdjust="spacingAndGlyphs">Vldlr</text>
<rect x="93.60" y="70.90" width="17.80" height="7.40" fill="#fa4a06"/>
<rect x="113.60" y="70.90" width="17.80" height="7.40" fill="#fd700a"/>
<rect x="133.70" y="70.90" width="17.80" height="7.40" fill="#fd800a"/>
<rect x="153.80" y="70.90" width="17.80" height="7.40" fill="#6464ac"/>
<rect x="173.90" y="70.90" width="17.80" height="7.40" fill="#4a4acc"/>
<rect x="194.20" y="70.90" width="17.80" height="7.40" fill="#5a5ab4"/>
<text x="215" y="77.60000000000001" font-size="6.6" text-anchor="start" font-weight="normal" fill="#111" stroke="#111" stroke-width="0.15" textLength="14.4" lengthAdjust="spacingAndGlyphs">Gata2</text>
<rect x="213.1" y="71.20" width="19.6" height="7.6" fill="none" stroke="#e03030" stroke-width="1"/>
<rect x="93.60" y="79.00" width="17.80" height="7.40" fill="#fd700a"/>
<rect x="113.60" y="79.00" width="17.80" height="7.40" fill="#fd800a"/>
<rect x="133.70" y="79.00" width="17.80" height="7.40" fill="#fd800a"/>
<rect x="153.80" y="79.00" width="17.80" height="7.40" fill="#7474a4"/>
<rect x="173.90" y="79.00" width="17.80" height="7.40" fill="#4a4acc"/>
<rect x="194.20" y="79.00" width="17.80" height="7.40" fill="#6464ac"/>
<text x="215" y="85.7" font-size="6.6" text-anchor="start" font-weight="normal" fill="#111" stroke="#111" stroke-width="0.15" textLength="17.1" lengthAdjust="spacingAndGlyphs">Adra2b</text>
<rect x="93.60" y="87.10" width="17.80" height="7.40" fill="#fd800a"/>
<rect x="113.60" y="87.10" width="17.80" height="7.40" fill="#fd7a0a"/>
<rect x="133.70" y="87.10" width="17.80" height="7.40" fill="#fd8a0a"/>
<rect x="153.80" y="87.10" width="17.80" height="7.40" fill="#7a7a9c"/>
<rect x="173.90" y="87.10" width="17.80" height="7.40" fill="#6464b4"/>
<rect x="194.20" y="87.10" width="17.80" height="7.40" fill="#7474a4"/>
<text x="215" y="93.8" font-size="6.6" text-anchor="start" font-weight="normal" fill="#111" stroke="#111" stroke-width="0.15" textLength="13.3" lengthAdjust="spacingAndGlyphs">Fbln2</text>
<rect x="93.60" y="95.20" width="17.80" height="7.40" fill="#fd7a0a"/>
<rect x="113.60" y="95.20" width="17.80" height="7.40" fill="#fd7a0a"/>
<rect x="133.70" y="95.20" width="17.80" height="7.40" fill="#fd800a"/>
<rect x="153.80" y="95.20" width="17.80" height="7.40" fill="#6464ac"/>
<rect x="173.90" y="95.20" width="17.80" height="7.40" fill="#3434e4"/>
<rect x="194.20" y="95.20" width="17.80" height="7.40" fill="#7474a4"/>
<text x="215" y="101.89999999999999" font-size="6.6" text-anchor="start" font-weight="normal" fill="#111" stroke="#111" stroke-width="0.15" textLength="20.0" lengthAdjust="spacingAndGlyphs">Rasgrp3</text>
<rect x="93.60" y="103.30" width="17.80" height="7.40" fill="#fa5a0a"/>
<rect x="113.60" y="103.30" width="17.80" height="7.40" fill="#fd800a"/>
<rect x="133.70" y="103.30" width="17.80" height="7.40" fill="#fd7a0a"/>
<rect x="153.80" y="103.30" width="17.80" height="7.40" fill="#6464ac"/>
<rect x="173.90" y="103.30" width="17.80" height="7.40" fill="#0a0afc"/>
<rect x="194.20" y="103.30" width="17.80" height="7.40" fill="#7474a4"/>
<text x="215" y="110.0" font-size="6.6" text-anchor="start" font-weight="normal" fill="#111" stroke="#111" stroke-width="0.15" textLength="15.9" lengthAdjust="spacingAndGlyphs">Mesp1</text>
<rect x="213.1" y="103.60" width="18.2" height="7.6" fill="none" stroke="#e03030" stroke-width="1"/>
<rect x="93.60" y="111.40" width="17.80" height="7.40" fill="#fd8a0a"/>
<rect x="113.60" y="111.40" width="17.80" height="7.40" fill="#fd8a0a"/>
<rect x="133.70" y="111.40" width="17.80" height="7.40" fill="#fd900a"/>
<rect x="153.80" y="111.40" width="17.80" height="7.40" fill="#6464ac"/>
<rect x="173.90" y="111.40" width="17.80" height="7.40" fill="#3a3ad4"/>
<rect x="194.20" y="111.40" width="17.80" height="7.40" fill="#888888"/>
<text x="215" y="118.10000000000001" font-size="6.6" text-anchor="start" font-weight="normal" fill="#111" stroke="#111" stroke-width="0.15" textLength="14.4" lengthAdjust="spacingAndGlyphs">Gata3</text>
<rect x="213.1" y="111.70" width="18.2" height="7.6" fill="none" stroke="#e03030" stroke-width="1"/>
<rect x="93.60" y="119.50" width="17.80" height="7.40" fill="#fd5a0a"/>
<rect x="113.60" y="119.50" width="17.80" height="7.40" fill="#fd7a0a"/>
<rect x="133.70" y="119.50" width="17.80" height="7.40" fill="#fa5006"/>
<rect x="153.80" y="119.50" width="17.80" height="7.40" fill="#1a1aec"/>
<rect x="173.90" y="119.50" width="17.80" height="7.40" fill="#2222ec"/>
<rect x="194.20" y="119.50" width="17.80" height="7.40" fill="#6464ac"/>
<text x="215" y="126.2" font-size="6.6" text-anchor="start" font-weight="normal" fill="#111" stroke="#111" stroke-width="0.15" textLength="15.6" lengthAdjust="spacingAndGlyphs">Bmper</text>
<rect x="93.60" y="127.60" width="17.80" height="7.40" fill="#fd7a0a"/>
<rect x="113.60" y="127.60" width="17.80" height="7.40" fill="#fd800a"/>
<rect x="133.70" y="127.60" width="17.80" height="7.40" fill="#fa5a0a"/>
<rect x="153.80" y="127.60" width="17.80" height="7.40" fill="#4a4acc"/>
<rect x="173.90" y="127.60" width="17.80" height="7.40" fill="#6464b4"/>
<rect x="194.20" y="127.60" width="17.80" height="7.40" fill="#6464b4"/>
<text x="215" y="134.29999999999998" font-size="6.6" text-anchor="start" font-weight="normal" fill="#111" stroke="#111" stroke-width="0.15" textLength="13.8" lengthAdjust="spacingAndGlyphs">Bmp4</text>
<rect x="93.60" y="135.70" width="17.80" height="7.40" fill="#fa5a0a"/>
<rect x="113.60" y="135.70" width="17.80" height="7.40" fill="#fd6a0a"/>
<rect x="133.70" y="135.70" width="17.80" height="7.40" fill="#fa5a0a"/>
<rect x="153.80" y="135.70" width="17.80" height="7.40" fill="#4a4acc"/>
<rect x="173.90" y="135.70" width="17.80" height="7.40" fill="#6464b4"/>
<rect x="194.20" y="135.70" width="17.80" height="7.40" fill="#4444cc"/>
<text x="215" y="142.39999999999998" font-size="6.6" text-anchor="start" font-weight="normal" fill="#111" stroke="#111" stroke-width="0.15" textLength="9.7" lengthAdjust="spacingAndGlyphs">Tal1</text>
<rect x="212.6" y="136.00" width="18.7" height="7.6" fill="none" stroke="#e03030" stroke-width="1"/>
<rect x="93.60" y="143.80" width="17.80" height="7.20" fill="#fd6a0a"/>
<rect x="113.60" y="143.80" width="17.80" height="7.20" fill="#fd8a0a"/>
<rect x="133.70" y="143.80" width="17.80" height="7.20" fill="#fd700a"/>
<rect x="153.80" y="143.80" width="17.80" height="7.20" fill="#5454bc"/>
<rect x="173.90" y="143.80" width="17.80" height="7.20" fill="#6464b4"/>
<rect x="194.20" y="143.80" width="17.80" height="7.20" fill="#6464b4"/>
<text x="215" y="150.39999999999998" font-size="6.6" text-anchor="start" font-weight="normal" fill="#111" stroke="#111" stroke-width="0.15" textLength="14.7" lengthAdjust="spacingAndGlyphs">Igfbp4</text>
<rect x="93.60" y="153.10" width="17.80" height="7.40" fill="#fdb00a"/>
<rect x="113.60" y="153.10" width="17.80" height="7.40" fill="#fda80a"/>
<rect x="133.70" y="153.10" width="17.80" height="7.40" fill="#fd920a"/>
<rect x="153.80" y="153.10" width="17.80" height="7.40" fill="#b0b04e"/>
<rect x="173.90" y="153.10" width="17.80" height="7.40" fill="#a0a05e"/>
<rect x="194.20" y="153.10" width="17.80" height="7.40" fill="#b0b056"/>
<text x="215" y="159.79999999999998" font-size="6.6" text-anchor="start" font-weight="normal" fill="#111" stroke="#111" stroke-width="0.15" textLength="8.0" lengthAdjust="spacingAndGlyphs">Nin</text>
<rect x="93.60" y="161.20" width="17.80" height="8.00" fill="#fda00a"/>
<rect x="113.60" y="161.20" width="17.80" height="8.00" fill="#fd980a"/>
<rect x="133.70" y="161.20" width="17.80" height="8.00" fill="#fda80a"/>
<rect x="153.80" y="161.20" width="17.80" height="8.00" fill="#b8b84e"/>
<rect x="173.90" y="161.20" width="17.80" height="8.00" fill="#b0b056"/>
<rect x="194.20" y="161.20" width="17.80" height="8.00" fill="#909080"/>
<text x="215" y="168.2" font-size="6.6" text-anchor="start" font-weight="normal" fill="#111" stroke="#111" stroke-width="0.15" textLength="13.3" lengthAdjust="spacingAndGlyphs">Lmo2</text>
<rect x="212.6" y="161.80" width="18.7" height="7.6" fill="none" stroke="#e03030" stroke-width="1"/>
<rect x="93.60" y="169.90" width="17.80" height="7.10" fill="#fdc802"/>
<rect x="113.60" y="169.90" width="17.80" height="7.10" fill="#fdd802"/>
<rect x="133.70" y="169.90" width="17.80" height="7.10" fill="#fdd802"/>
<rect x="153.80" y="169.90" width="17.80" height="7.10" fill="#909080"/>
<rect x="173.90" y="169.90" width="17.80" height="7.10" fill="#909080"/>
<rect x="194.20" y="169.90" width="17.80" height="7.10" fill="#d8d826"/>
<text x="215" y="176.45" font-size="6.6" text-anchor="start" font-weight="normal" fill="#111" stroke="#111" stroke-width="0.15" textLength="10.6" lengthAdjust="spacingAndGlyphs">Frzb</text>
<rect x="93.60" y="177.70" width="17.80" height="5.70" fill="#fd880a"/>
<rect x="113.60" y="177.70" width="17.80" height="5.70" fill="#fdb00a"/>
<rect x="133.70" y="177.70" width="17.80" height="5.70" fill="#fda00a"/>
<rect x="153.80" y="177.70" width="17.80" height="5.70" fill="#888888"/>
<rect x="173.90" y="177.70" width="17.80" height="5.70" fill="#909080"/>
<rect x="194.20" y="177.70" width="17.80" height="5.70" fill="#b0b056"/>
<text x="215" y="183.54999999999998" font-size="6.6" text-anchor="start" font-weight="normal" fill="#111" stroke="#111" stroke-width="0.15" textLength="13.6" lengthAdjust="spacingAndGlyphs">Fgf10</text>
<rect x="93.60" y="184.10" width="17.80" height="7.60" fill="#fdc00a"/>
<rect x="113.60" y="184.10" width="17.80" height="7.60" fill="#fdc00a"/>
<rect x="133.70" y="184.10" width="17.80" height="7.60" fill="#fdb80a"/>
<rect x="153.80" y="184.10" width="17.80" height="7.60" fill="#b8b846"/>
<rect x="173.90" y="184.10" width="17.80" height="7.60" fill="#5252bc"/>
<rect x="194.20" y="184.10" width="17.80" height="7.60" fill="#888888"/>
<text x="215" y="190.9" font-size="6.6" text-anchor="start" font-weight="normal" fill="#111" stroke="#111" stroke-width="0.15" textLength="18.9" lengthAdjust="spacingAndGlyphs">Man1c1</text>
<rect x="93.60" y="192.40" width="17.80" height="7.10" fill="#fd980a"/>
<rect x="113.60" y="192.40" width="17.80" height="7.10" fill="#fdb00a"/>
<rect x="133.70" y="192.40" width="17.80" height="7.10" fill="#fd980a"/>
<rect x="153.80" y="192.40" width="17.80" height="7.10" fill="#b8b84e"/>
<rect x="173.90" y="192.40" width="17.80" height="7.10" fill="#b0b056"/>
<rect x="194.20" y="192.40" width="17.80" height="7.10" fill="#b8b84e"/>
<text x="215" y="198.95" font-size="6.6" text-anchor="start" font-weight="normal" fill="#111" stroke="#111" stroke-width="0.15" textLength="14.4" lengthAdjust="spacingAndGlyphs">Gata4</text>
<rect x="212.6" y="192.55" width="20.1" height="7.6" fill="none" stroke="#e03030" stroke-width="1"/>
<rect x="93.60" y="200.20" width="17.80" height="7.90" fill="#fda00a"/>
<rect x="113.60" y="200.20" width="17.80" height="7.90" fill="#fdb80a"/>
<rect x="133.70" y="200.20" width="17.80" height="7.90" fill="#fda00a"/>
<rect x="153.80" y="200.20" width="17.80" height="7.90" fill="#b8b84e"/>
<rect x="173.90" y="200.20" width="17.80" height="7.90" fill="#b8b84e"/>
<rect x="194.20" y="200.20" width="17.80" height="7.90" fill="#b0b056"/>
<text x="215" y="207.15" font-size="6.6" text-anchor="start" font-weight="normal" fill="#111" stroke="#111" stroke-width="0.15" textLength="13.9" lengthAdjust="spacingAndGlyphs">Sept8</text>
<rect x="93.60" y="208.80" width="17.80" height="7.10" fill="#fd980a"/>
<rect x="113.60" y="208.80" width="17.80" height="7.10" fill="#fdb80a"/>
<rect x="133.70" y="208.80" width="17.80" height="7.10" fill="#fda80a"/>
<rect x="153.80" y="208.80" width="17.80" height="7.10" fill="#b0b056"/>
<rect x="173.90" y="208.80" width="17.80" height="7.10" fill="#b8b84e"/>
<rect x="194.20" y="208.80" width="17.80" height="7.10" fill="#b8b84e"/>
<text x="215" y="215.35" font-size="6.6" text-anchor="start" font-weight="normal" fill="#111" stroke="#111" stroke-width="0.15" textLength="16.8" lengthAdjust="spacingAndGlyphs">Smad1</text>
<rect x="213.1" y="208.95" width="19.6" height="7.6" fill="none" stroke="#e03030" stroke-width="1"/>
<rect x="93.60" y="216.60" width="17.80" height="8.00" fill="#fd800a"/>
<rect x="113.60" y="216.60" width="17.80" height="8.00" fill="#fdc00a"/>
<rect x="133.70" y="216.60" width="17.80" height="8.00" fill="#fd980a"/>
<rect x="153.80" y="216.60" width="17.80" height="8.00" fill="#b0b056"/>
<rect x="173.90" y="216.60" width="17.80" height="8.00" fill="#b8b84e"/>
<rect x="194.20" y="216.60" width="17.80" height="8.00" fill="#b0b056"/>
<text x="215" y="223.6" font-size="6.6" text-anchor="start" font-weight="normal" fill="#111" stroke="#111" stroke-width="0.15" textLength="13.6" lengthAdjust="spacingAndGlyphs">Tgfb1</text>
<rect x="93.60" y="225.30" width="17.80" height="8.60" fill="#fda00a"/>
<rect x="113.60" y="225.30" width="17.80" height="8.60" fill="#fdb80a"/>
<rect x="133.70" y="225.30" width="17.80" height="8.60" fill="#fd780a"/>
<rect x="153.80" y="225.30" width="17.80" height="8.60" fill="#98986e"/>
<rect x="173.90" y="225.30" width="17.80" height="8.60" fill="#98986e"/>
<rect x="194.20" y="225.30" width="17.80" height="8.60" fill="#b0b056"/>
<text x="215" y="232.6" font-size="6.6" text-anchor="start" font-weight="normal" fill="#111" stroke="#111" stroke-width="0.15" textLength="15.3" lengthAdjust="spacingAndGlyphs">Wnt5a</text>
<text x="104.9" y="45" font-size="6.8" text-anchor="start" font-weight="normal" fill="#000" transform="rotate(-90 104.9 45)">[WT-1]</text>
<text x="124.9" y="45" font-size="6.8" text-anchor="start" font-weight="normal" fill="#000" transform="rotate(-90 124.9 45)">[WT-2]</text>
<text x="145.0" y="45" font-size="6.8" text-anchor="start" font-weight="normal" fill="#000" transform="rotate(-90 145.0 45)">[WT-3]</text>
<text x="165.10000000000002" y="45" font-size="6.8" text-anchor="start" font-weight="normal" fill="#000" transform="rotate(-90 165.10000000000002 45)">[KO-1]</text>
<text x="185.20000000000002" y="45" font-size="6.8" text-anchor="start" font-weight="normal" fill="#000" transform="rotate(-90 185.20000000000002 45)">[KO-2]</text>
<text x="205.5" y="45" font-size="6.8" text-anchor="start" font-weight="normal" fill="#000" transform="rotate(-90 205.5 45)">[KO-3]</text>
<line x1="88.70" y1="47.00" x2="88.70" y2="151.00" stroke="#555" stroke-width="0.8"/>
<line x1="88.70" y1="50.10" x2="91.00" y2="50.10" stroke="#555" stroke-width="0.7"/>
<line x1="88.70" y1="58.20" x2="91.00" y2="58.20" stroke="#555" stroke-width="0.7"/>
<line x1="88.70" y1="66.30" x2="91.00" y2="66.30" stroke="#555" stroke-width="0.7"/>
<line x1="88.70" y1="74.40" x2="91.00" y2="74.40" stroke="#555" stroke-width="0.7"/>
<line x1="88.70" y1="82.50" x2="91.00" y2="82.50" stroke="#555" stroke-width="0.7"/>
<line x1="88.70" y1="90.60" x2="91.00" y2="90.60" stroke="#555" stroke-width="0.7"/>
<line x1="88.70" y1="98.70" x2="91.00" y2="98.70" stroke="#555" stroke-width="0.7"/>
<line x1="88.70" y1="106.80" x2="91.00" y2="106.80" stroke="#555" stroke-width="0.7"/>
<line x1="88.70" y1="114.90" x2="91.00" y2="114.90" stroke="#555" stroke-width="0.7"/>
<line x1="88.70" y1="123.00" x2="91.00" y2="123.00" stroke="#555" stroke-width="0.7"/>
<line x1="88.70" y1="131.10" x2="91.00" y2="131.10" stroke="#555" stroke-width="0.7"/>
<line x1="88.70" y1="139.20" x2="91.00" y2="139.20" stroke="#555" stroke-width="0.7"/>
<line x1="88.70" y1="147.30" x2="91.00" y2="147.30" stroke="#555" stroke-width="0.7"/>
<line x1="88.90" y1="153.00" x2="88.90" y2="233.90" stroke="#111" stroke-width="1.8"/>
<line x1="88.90" y1="156.60" x2="91.00" y2="156.60" stroke="#555" stroke-width="0.7"/>
<line x1="88.90" y1="164.70" x2="91.00" y2="164.70" stroke="#555" stroke-width="0.7"/>
<line x1="88.90" y1="173.40" x2="91.00" y2="173.40" stroke="#555" stroke-width="0.7"/>
<line x1="88.90" y1="181.20" x2="91.00" y2="181.20" stroke="#555" stroke-width="0.7"/>
<line x1="88.90" y1="187.60" x2="91.00" y2="187.60" stroke="#555" stroke-width="0.7"/>
<line x1="88.90" y1="195.90" x2="91.00" y2="195.90" stroke="#555" stroke-width="0.7"/>
<line x1="88.90" y1="203.70" x2="91.00" y2="203.70" stroke="#555" stroke-width="0.7"/>
<line x1="88.90" y1="212.30" x2="91.00" y2="212.30" stroke="#555" stroke-width="0.7"/>
<line x1="88.90" y1="220.10" x2="91.00" y2="220.10" stroke="#555" stroke-width="0.7"/>
<line x1="88.90" y1="228.80" x2="91.00" y2="228.80" stroke="#555" stroke-width="0.7"/>
<text x="273" y="16" font-size="17.5" text-anchor="start" font-weight="bold" fill="#000">B</text>
<rect x="355.40" y="20.30" width="39.20" height="35.10" fill="#fff" stroke="#000" stroke-width="1"/>
<rect x="362.30" y="28.00" width="6.20" height="5.80" fill="#9999ff" stroke="#333" stroke-width="0.8"/>
<rect x="362.30" y="43.00" width="6.20" height="5.50" fill="#993366" stroke="#333" stroke-width="0.8"/>
<text x="370.8" y="34" font-size="9.1" text-anchor="start" font-weight="normal" fill="#000">WT</text>
<text x="370.8" y="49.3" font-size="9.1" text-anchor="start" font-weight="normal" fill="#000">Null</text>
<line x1="305.70" y1="65.00" x2="305.70" y2="151.00" stroke="#bbb" stroke-width="0.8"/>
<line x1="305.70" y1="151.00" x2="507.50" y2="151.00" stroke="#ccc" stroke-width="0.8"/>
<text x="299.6" y="154.8" font-size="10.4" text-anchor="end" font-weight="normal" fill="#000">0</text>
<line x1="303.50" y1="151.00" x2="305.70" y2="151.00" stroke="#bbb" stroke-width="0.6"/>
<text x="299.6" y="142.55" font-size="10.4" text-anchor="end" font-weight="normal" fill="#000">0.2</text>
<line x1="303.50" y1="138.75" x2="305.70" y2="138.75" stroke="#bbb" stroke-width="0.6"/>
<text x="299.6" y="130.3" font-size="10.4" text-anchor="end" font-weight="normal" fill="#000">0.4</text>
<line x1="303.50" y1="126.50" x2="305.70" y2="126.50" stroke="#bbb" stroke-width="0.6"/>
<text x="299.6" y="118.05" font-size="10.4" text-anchor="end" font-weight="normal" fill="#000">0.6</text>
<line x1="303.50" y1="114.25" x2="305.70" y2="114.25" stroke="#bbb" stroke-width="0.6"/>
<text x="299.6" y="105.8" font-size="10.4" text-anchor="end" font-weight="normal" fill="#000">0.8</text>
<line x1="303.50" y1="102.00" x2="305.70" y2="102.00" stroke="#bbb" stroke-width="0.6"/>
<text x="299.6" y="93.55" font-size="10.4" text-anchor="end" font-weight="normal" fill="#000">1</text>
<line x1="303.50" y1="89.75" x2="305.70" y2="89.75" stroke="#bbb" stroke-width="0.6"/>
<text x="299.6" y="81.29999999999998" font-size="10.4" text-anchor="end" font-weight="normal" fill="#000">1.2</text>
<line x1="303.50" y1="77.50" x2="305.70" y2="77.50" stroke="#bbb" stroke-width="0.6"/>
<text x="299.6" y="69.04999999999998" font-size="10.4" text-anchor="end" font-weight="normal" fill="#000">1.4</text>
<line x1="303.50" y1="65.25" x2="305.70" y2="65.25" stroke="#bbb" stroke-width="0.6"/>
<text x="279.2" y="110.2" font-size="11" text-anchor="middle" font-weight="normal" fill="#000" transform="rotate(-90 279.2 110.2)">Relative Expression</text>
<line x1="314.80" y1="88.53" x2="314.80" y2="74.01" stroke="#222" stroke-width="1.1"/>
<line x1="312.30" y1="74.01" x2="317.30" y2="74.01" stroke="#222" stroke-width="1.3"/>
<rect x="310.80" y="88.53" width="8.00" height="62.47" fill="#9999ff" stroke="#1a1a60" stroke-width="1"/>
<line x1="322.40" y1="132.62" x2="322.40" y2="132.01" stroke="#222" stroke-width="1.1"/>
<line x1="319.90" y1="132.01" x2="324.90" y2="132.01" stroke="#222" stroke-width="1.3"/>
<rect x="318.80" y="132.62" width="7.20" height="18.38" fill="#993366" stroke="#3a1020" stroke-width="1"/>
<text x="322.40000000000003" y="132.8125" font-size="8.5" text-anchor="middle" font-weight="bold" fill="#000">**</text>
<text x="321.8" y="159.5" font-size="10" text-anchor="end" font-weight="normal" fill="#000" transform="rotate(-45 321.8 159.5)">PDGF&#945;R</text>
<line x1="340.00" y1="88.53" x2="340.00" y2="71.38" stroke="#222" stroke-width="1.1"/>
<line x1="337.50" y1="71.38" x2="342.50" y2="71.38" stroke="#222" stroke-width="1.3"/>
<rect x="336.00" y="88.53" width="8.00" height="62.47" fill="#9999ff" stroke="#1a1a60" stroke-width="1"/>
<line x1="347.60" y1="141.02" x2="347.60" y2="140.59" stroke="#222" stroke-width="1.1"/>
<line x1="345.10" y1="140.59" x2="350.10" y2="140.59" stroke="#222" stroke-width="1.3"/>
<rect x="344.00" y="141.02" width="7.20" height="9.98" fill="#993366" stroke="#3a1020" stroke-width="1"/>
<text x="347.6" y="141.38750000000002" font-size="8.5" text-anchor="middle" font-weight="bold" fill="#000">***</text>
<text x="347.0" y="159.5" font-size="10" text-anchor="end" font-weight="normal" fill="#000" transform="rotate(-45 347.0 159.5)">Gata2</text>
<line x1="365.20" y1="88.53" x2="365.20" y2="70.76" stroke="#222" stroke-width="1.1"/>
<line x1="362.70" y1="70.76" x2="367.70" y2="70.76" stroke="#222" stroke-width="1.3"/>
<rect x="361.20" y="88.53" width="8.00" height="62.47" fill="#9999ff" stroke="#1a1a60" stroke-width="1"/>
<line x1="372.80" y1="142.43" x2="372.80" y2="141.81" stroke="#222" stroke-width="1.1"/>
<line x1="370.30" y1="141.81" x2="375.30" y2="141.81" stroke="#222" stroke-width="1.3"/>
<rect x="369.20" y="142.43" width="7.20" height="8.57" fill="#993366" stroke="#3a1020" stroke-width="1"/>
<text x="372.8" y="142.6125" font-size="8.5" text-anchor="middle" font-weight="bold" fill="#000">**</text>
<text x="372.2" y="159.5" font-size="10" text-anchor="end" font-weight="normal" fill="#000" transform="rotate(-45 372.2 159.5)">Gata3</text>
<line x1="390.40" y1="88.53" x2="390.40" y2="71.38" stroke="#222" stroke-width="1.1"/>
<line x1="387.90" y1="71.38" x2="392.90" y2="71.38" stroke="#222" stroke-width="1.3"/>
<rect x="386.40" y="88.53" width="8.00" height="62.47" fill="#9999ff" stroke="#1a1a60" stroke-width="1"/>
<line x1="398.00" y1="134.46" x2="398.00" y2="127.72" stroke="#222" stroke-width="1.1"/>
<line x1="395.50" y1="127.72" x2="400.50" y2="127.72" stroke="#222" stroke-width="1.3"/>
<rect x="394.40" y="134.46" width="7.20" height="16.54" fill="#993366" stroke="#3a1020" stroke-width="1"/>
<text x="398.0" y="128.525" font-size="8.5" text-anchor="middle" font-weight="bold" fill="#000">*</text>
<text x="397.4" y="159.5" font-size="10" text-anchor="end" font-weight="normal" fill="#000" transform="rotate(-45 397.4 159.5)">Gata4</text>
<line x1="415.60" y1="88.53" x2="415.60" y2="73.83" stroke="#222" stroke-width="1.1"/>
<line x1="413.10" y1="73.83" x2="418.10" y2="73.83" stroke="#222" stroke-width="1.3"/>
<rect x="411.60" y="88.53" width="8.00" height="62.47" fill="#9999ff" stroke="#1a1a60" stroke-width="1"/>
<line x1="423.20" y1="143.04" x2="423.20" y2="142.43" stroke="#222" stroke-width="1.1"/>
<line x1="420.70" y1="142.43" x2="425.70" y2="142.43" stroke="#222" stroke-width="1.3"/>
<rect x="419.60" y="143.04" width="7.20" height="7.96" fill="#993366" stroke="#3a1020" stroke-width="1"/>
<text x="423.20000000000005" y="143.22500000000002" font-size="8.5" text-anchor="middle" font-weight="bold" fill="#000">***</text>
<text x="422.6" y="159.5" font-size="10" text-anchor="end" font-weight="normal" fill="#000" transform="rotate(-45 422.6 159.5)">Mesp1</text>
<line x1="440.80" y1="88.53" x2="440.80" y2="70.15" stroke="#222" stroke-width="1.1"/>
<line x1="438.30" y1="70.15" x2="443.30" y2="70.15" stroke="#222" stroke-width="1.3"/>
<rect x="436.80" y="88.53" width="8.00" height="62.47" fill="#9999ff" stroke="#1a1a60" stroke-width="1"/>
<line x1="448.40" y1="116.09" x2="448.40" y2="115.47" stroke="#222" stroke-width="1.1"/>
<line x1="445.90" y1="115.47" x2="450.90" y2="115.47" stroke="#222" stroke-width="1.3"/>
<rect x="444.80" y="116.09" width="7.20" height="34.91" fill="#993366" stroke="#3a1020" stroke-width="1"/>
<text x="448.40000000000003" y="116.27499999999999" font-size="8.5" text-anchor="middle" font-weight="bold" fill="#000">**</text>
<text x="444.8" y="162.0" font-size="10" text-anchor="end" font-weight="normal" fill="#000" transform="rotate(-45 444.8 162.0)">Lmo2</text>
<line x1="466.00" y1="88.53" x2="466.00" y2="78.11" stroke="#222" stroke-width="1.1"/>
<line x1="463.50" y1="78.11" x2="468.50" y2="78.11" stroke="#222" stroke-width="1.3"/>
<rect x="462.00" y="88.53" width="8.00" height="62.47" fill="#9999ff" stroke="#1a1a60" stroke-width="1"/>
<line x1="473.60" y1="136.91" x2="473.60" y2="132.32" stroke="#222" stroke-width="1.1"/>
<line x1="471.10" y1="132.32" x2="476.10" y2="132.32" stroke="#222" stroke-width="1.3"/>
<rect x="470.00" y="136.91" width="7.20" height="14.09" fill="#993366" stroke="#3a1020" stroke-width="1"/>
<text x="473.6" y="133.11875" font-size="8.5" text-anchor="middle" font-weight="bold" fill="#000">**</text>
<text x="473.0" y="159.5" font-size="10" text-anchor="end" font-weight="normal" fill="#000" transform="rotate(-45 473.0 159.5)">SCL</text>
<line x1="491.20" y1="88.53" x2="491.20" y2="75.66" stroke="#222" stroke-width="1.1"/>
<line x1="488.70" y1="75.66" x2="493.70" y2="75.66" stroke="#222" stroke-width="1.3"/>
<rect x="487.20" y="88.53" width="8.00" height="62.47" fill="#9999ff" stroke="#1a1a60" stroke-width="1"/>
<line x1="498.80" y1="131.40" x2="498.80" y2="126.50" stroke="#222" stroke-width="1.1"/>
<line x1="496.30" y1="126.50" x2="501.30" y2="126.50" stroke="#222" stroke-width="1.3"/>
<rect x="495.20" y="131.40" width="7.20" height="19.60" fill="#993366" stroke="#3a1020" stroke-width="1"/>
<text x="498.80000000000007" y="127.3" font-size="8.5" text-anchor="middle" font-weight="bold" fill="#000">*</text>
<text x="498.20000000000005" y="159.5" font-size="10" text-anchor="end" font-weight="normal" fill="#000" transform="rotate(-45 498.20000000000005 159.5)">Smad1</text>
<text x="6" y="277.7" font-size="18" text-anchor="start" font-weight="bold" fill="#000">C</text>
<rect x="216.10" y="276.00" width="40.10" height="35.30" fill="#fff" stroke="#000" stroke-width="1"/>
<rect x="223.60" y="283.80" width="5.80" height="5.60" fill="#9999ff" stroke="#333" stroke-width="0.8"/>
<rect x="223.60" y="299.40" width="5.80" height="5.40" fill="#993366" stroke="#333" stroke-width="0.8"/>
<text x="232.3" y="289.8" font-size="9" text-anchor="start" font-weight="normal" fill="#000">WT</text>
<text x="232.3" y="305.4" font-size="9" text-anchor="start" font-weight="normal" fill="#000">Null</text>
<line x1="64.60" y1="311.60" x2="64.60" y2="419.40" stroke="#bbb" stroke-width="0.8"/>
<line x1="64.60" y1="419.40" x2="272.00" y2="419.40" stroke="#ccc" stroke-width="0.8"/>
<text x="58.5" y="423.2" font-size="10.5" text-anchor="end" font-weight="normal" fill="#000">0</text>
<line x1="62.30" y1="419.40" x2="64.60" y2="419.40" stroke="#bbb" stroke-width="0.6"/>
<text x="58.5" y="412.42" font-size="10.5" text-anchor="end" font-weight="normal" fill="#000">0.2</text>
<line x1="62.30" y1="408.62" x2="64.60" y2="408.62" stroke="#bbb" stroke-width="0.6"/>
<text x="58.5" y="401.64" font-size="10.5" text-anchor="end" font-weight="normal" fill="#000">0.4</text>
<line x1="62.30" y1="397.84" x2="64.60" y2="397.84" stroke="#bbb" stroke-width="0.6"/>
<text x="58.5" y="390.85999999999996" font-size="10.5" text-anchor="end" font-weight="normal" fill="#000">0.6</text>
<line x1="62.30" y1="387.06" x2="64.60" y2="387.06" stroke="#bbb" stroke-width="0.6"/>
<text x="58.5" y="380.08" font-size="10.5" text-anchor="end" font-weight="normal" fill="#000">0.8</text>
<line x1="62.30" y1="376.28" x2="64.60" y2="376.28" stroke="#bbb" stroke-width="0.6"/>
<text x="58.5" y="369.3" font-size="10.5" text-anchor="end" font-weight="normal" fill="#000">1</text>
<line x1="62.30" y1="365.50" x2="64.60" y2="365.50" stroke="#bbb" stroke-width="0.6"/>
<text x="58.5" y="358.52" font-size="10.5" text-anchor="end" font-weight="normal" fill="#000">1.2</text>
<line x1="62.30" y1="354.72" x2="64.60" y2="354.72" stroke="#bbb" stroke-width="0.6"/>
<text x="58.5" y="347.73999999999995" font-size="10.5" text-anchor="end" font-weight="normal" fill="#000">1.4</text>
<line x1="62.30" y1="343.94" x2="64.60" y2="343.94" stroke="#bbb" stroke-width="0.6"/>
<text x="58.5" y="336.96" font-size="10.5" text-anchor="end" font-weight="normal" fill="#000">1.6</text>
<line x1="62.30" y1="333.16" x2="64.60" y2="333.16" stroke="#bbb" stroke-width="0.6"/>
<text x="58.5" y="326.18" font-size="10.5" text-anchor="end" font-weight="normal" fill="#000">1.8</text>
<line x1="62.30" y1="322.38" x2="64.60" y2="322.38" stroke="#bbb" stroke-width="0.6"/>
<text x="58.5" y="315.4" font-size="10.5" text-anchor="end" font-weight="normal" fill="#000">2</text>
<line x1="62.30" y1="311.60" x2="64.60" y2="311.60" stroke="#bbb" stroke-width="0.6"/>
<text x="36.7" y="366.4" font-size="11" text-anchor="middle" font-weight="normal" fill="#000" transform="rotate(-90 36.7 366.4)" xml:space="preserve">Relative  Expression</text>
<line x1="71.90" y1="365.50" x2="71.90" y2="350.95" stroke="#222" stroke-width="1.0"/>
<line x1="69.50" y1="350.95" x2="74.30" y2="350.95" stroke="#222" stroke-width="1.2"/>
<rect x="68.60" y="365.50" width="6.60" height="53.90" fill="#9999ff" stroke="#1a1a60" stroke-width="0.9"/>
<line x1="78.40" y1="388.68" x2="78.40" y2="387.60" stroke="#222" stroke-width="1.0"/>
<line x1="76.00" y1="387.60" x2="80.80" y2="387.60" stroke="#222" stroke-width="1.2"/>
<rect x="75.20" y="388.68" width="6.40" height="30.72" fill="#993366" stroke="#3a1020" stroke-width="0.9"/>
<text x="80.39999999999999" y="426.8" font-size="10.1" text-anchor="end" font-weight="normal" fill="#000" transform="rotate(-45 80.39999999999999 426.8)">ALK-1</text>
<line x1="92.90" y1="365.50" x2="92.90" y2="347.71" stroke="#222" stroke-width="1.0"/>
<line x1="90.50" y1="347.71" x2="95.30" y2="347.71" stroke="#222" stroke-width="1.2"/>
<rect x="89.60" y="365.50" width="6.60" height="53.90" fill="#9999ff" stroke="#1a1a60" stroke-width="0.9"/>
<line x1="99.40" y1="361.73" x2="99.40" y2="353.10" stroke="#222" stroke-width="1.0"/>
<line x1="97.00" y1="353.10" x2="101.80" y2="353.10" stroke="#222" stroke-width="1.2"/>
<rect x="96.20" y="361.73" width="6.40" height="57.67" fill="#993366" stroke="#3a1020" stroke-width="0.9"/>
<text x="101.39999999999999" y="426.8" font-size="10.1" text-anchor="end" font-weight="normal" fill="#000" transform="rotate(-45 101.39999999999999 426.8)">ALK-2</text>
<line x1="113.90" y1="365.50" x2="113.90" y2="346.10" stroke="#222" stroke-width="1.0"/>
<line x1="111.50" y1="346.10" x2="116.30" y2="346.10" stroke="#222" stroke-width="1.2"/>
<rect x="110.60" y="365.50" width="6.60" height="53.90" fill="#9999ff" stroke="#1a1a60" stroke-width="0.9"/>
<line x1="120.40" y1="336.93" x2="120.40" y2="328.31" stroke="#222" stroke-width="1.0"/>
<line x1="118.00" y1="328.31" x2="122.80" y2="328.31" stroke="#222" stroke-width="1.2"/>
<rect x="117.20" y="336.93" width="6.40" height="82.47" fill="#993366" stroke="#3a1020" stroke-width="0.9"/>
<text x="122.39999999999999" y="426.8" font-size="10.1" text-anchor="end" font-weight="normal" fill="#000" transform="rotate(-45 122.39999999999999 426.8)">ALK-3</text>
<line x1="134.90" y1="365.50" x2="134.90" y2="353.10" stroke="#222" stroke-width="1.0"/>
<line x1="132.50" y1="353.10" x2="137.30" y2="353.10" stroke="#222" stroke-width="1.2"/>
<rect x="131.60" y="365.50" width="6.60" height="53.90" fill="#9999ff" stroke="#1a1a60" stroke-width="0.9"/>
<line x1="141.40" y1="345.02" x2="141.40" y2="320.76" stroke="#222" stroke-width="1.0"/>
<line x1="139.00" y1="320.76" x2="143.80" y2="320.76" stroke="#222" stroke-width="1.2"/>
<rect x="138.20" y="345.02" width="6.40" height="74.38" fill="#993366" stroke="#3a1020" stroke-width="0.9"/>
<text x="143.4" y="426.8" font-size="10.1" text-anchor="end" font-weight="normal" fill="#000" transform="rotate(-45 143.4 426.8)">ALK-4</text>
<line x1="155.90" y1="365.50" x2="155.90" y2="349.87" stroke="#222" stroke-width="1.0"/>
<line x1="153.50" y1="349.87" x2="158.30" y2="349.87" stroke="#222" stroke-width="1.2"/>
<rect x="152.60" y="365.50" width="6.60" height="53.90" fill="#9999ff" stroke="#1a1a60" stroke-width="0.9"/>
<line x1="162.40" y1="367.12" x2="162.40" y2="352.56" stroke="#222" stroke-width="1.0"/>
<line x1="160.00" y1="352.56" x2="164.80" y2="352.56" stroke="#222" stroke-width="1.2"/>
<rect x="159.20" y="367.12" width="6.40" height="52.28" fill="#993366" stroke="#3a1020" stroke-width="0.9"/>
<text x="164.4" y="426.8" font-size="10.1" text-anchor="end" font-weight="normal" fill="#000" transform="rotate(-45 164.4 426.8)">ALK-5</text>
<line x1="176.90" y1="365.50" x2="176.90" y2="345.02" stroke="#222" stroke-width="1.0"/>
<line x1="174.50" y1="345.02" x2="179.30" y2="345.02" stroke="#222" stroke-width="1.2"/>
<rect x="173.60" y="365.50" width="6.60" height="53.90" fill="#9999ff" stroke="#1a1a60" stroke-width="0.9"/>
<line x1="183.40" y1="373.05" x2="183.40" y2="350.95" stroke="#222" stroke-width="1.0"/>
<line x1="181.00" y1="350.95" x2="185.80" y2="350.95" stroke="#222" stroke-width="1.2"/>
<rect x="180.20" y="373.05" width="6.40" height="46.35" fill="#993366" stroke="#3a1020" stroke-width="0.9"/>
<text x="185.4" y="426.8" font-size="10.1" text-anchor="end" font-weight="normal" fill="#000" transform="rotate(-45 185.4 426.8)">ALK-6</text>
<line x1="197.90" y1="365.50" x2="197.90" y2="356.88" stroke="#222" stroke-width="1.0"/>
<line x1="195.50" y1="356.88" x2="200.30" y2="356.88" stroke="#222" stroke-width="1.2"/>
<rect x="194.60" y="365.50" width="6.60" height="53.90" fill="#9999ff" stroke="#1a1a60" stroke-width="0.9"/>
<line x1="204.40" y1="374.12" x2="204.40" y2="367.66" stroke="#222" stroke-width="1.0"/>
<line x1="202.00" y1="367.66" x2="206.80" y2="367.66" stroke="#222" stroke-width="1.2"/>
<rect x="201.20" y="374.12" width="6.40" height="45.28" fill="#993366" stroke="#3a1020" stroke-width="0.9"/>
<text x="206.4" y="431.8" font-size="10.6" text-anchor="end" font-weight="normal" fill="#000" transform="rotate(-45 206.4 431.8)">Smad2</text>
<line x1="218.90" y1="365.50" x2="218.90" y2="338.55" stroke="#222" stroke-width="1.0"/>
<line x1="216.50" y1="338.55" x2="221.30" y2="338.55" stroke="#222" stroke-width="1.2"/>
<rect x="215.60" y="365.50" width="6.60" height="53.90" fill="#9999ff" stroke="#1a1a60" stroke-width="0.9"/>
<line x1="225.40" y1="363.88" x2="225.40" y2="341.78" stroke="#222" stroke-width="1.0"/>
<line x1="223.00" y1="341.78" x2="227.80" y2="341.78" stroke="#222" stroke-width="1.2"/>
<rect x="222.20" y="363.88" width="6.40" height="55.52" fill="#993366" stroke="#3a1020" stroke-width="0.9"/>
<text x="227.4" y="431.8" font-size="10.6" text-anchor="end" font-weight="normal" fill="#000" transform="rotate(-45 227.4 431.8)">Smad3</text>
<line x1="239.90" y1="365.50" x2="239.90" y2="340.71" stroke="#222" stroke-width="1.0"/>
<line x1="237.50" y1="340.71" x2="242.30" y2="340.71" stroke="#222" stroke-width="1.2"/>
<rect x="236.60" y="365.50" width="6.60" height="53.90" fill="#9999ff" stroke="#1a1a60" stroke-width="0.9"/>
<line x1="246.40" y1="351.49" x2="246.40" y2="329.39" stroke="#222" stroke-width="1.0"/>
<line x1="244.00" y1="329.39" x2="248.80" y2="329.39" stroke="#222" stroke-width="1.2"/>
<rect x="243.20" y="351.49" width="6.40" height="67.91" fill="#993366" stroke="#3a1020" stroke-width="0.9"/>
<text x="248.4" y="431.8" font-size="10.6" text-anchor="end" font-weight="normal" fill="#000" transform="rotate(-45 248.4 431.8)">Smad5</text>
<line x1="260.90" y1="365.50" x2="260.90" y2="348.25" stroke="#222" stroke-width="1.0"/>
<line x1="258.50" y1="348.25" x2="263.30" y2="348.25" stroke="#222" stroke-width="1.2"/>
<rect x="257.60" y="365.50" width="6.60" height="53.90" fill="#9999ff" stroke="#1a1a60" stroke-width="0.9"/>
<line x1="267.40" y1="385.44" x2="267.40" y2="370.35" stroke="#222" stroke-width="1.0"/>
<line x1="265.00" y1="370.35" x2="269.80" y2="370.35" stroke="#222" stroke-width="1.2"/>
<rect x="264.20" y="385.44" width="6.40" height="33.96" fill="#993366" stroke="#3a1020" stroke-width="0.9"/>
<text x="269.40000000000003" y="431.8" font-size="10.6" text-anchor="end" font-weight="normal" fill="#000" transform="rotate(-45 269.40000000000003 431.8)">Smad7</text>
<text x="321.6" y="275.8" font-size="18" text-anchor="start" font-weight="bold" fill="#000">D</text>
<text x="413.2" y="284" font-size="12" text-anchor="start" font-weight="normal" fill="#000">WT</text>
<text x="442.8" y="284" font-size="12" text-anchor="start" font-weight="normal" fill="#000">null</text>
<rect x="402.50" y="286.20" width="67.00" height="26.60" fill="#3f7ea2"/>
<text x="398.5" y="303.5" font-size="11" text-anchor="end" font-weight="normal" fill="#000">Smad1</text>
<rect x="402.50" y="317.70" width="67.00" height="26.10" fill="#3e7ca0"/>
<text x="398.5" y="334.75" font-size="11" text-anchor="end" font-weight="normal" fill="#000">pSmad1</text>
<rect x="402.50" y="348.20" width="67.00" height="26.40" fill="#3a7292"/>
<text x="398.5" y="365.4" font-size="11" text-anchor="end" font-weight="normal" fill="#000">Smad2</text>
<rect x="402.50" y="379.50" width="67.00" height="25.40" fill="#3b789c"/>
<text x="398.5" y="396.2" font-size="11" text-anchor="end" font-weight="normal" fill="#000">pSmad2</text>
<rect x="402.50" y="409.60" width="67.00" height="25.90" fill="#3c799c"/>
<text x="398.5" y="426.55" font-size="11" text-anchor="end" font-weight="normal" fill="#000">GAPDH</text>
<defs><filter id="b8" x="-50%" y="-50%" width="200%" height="200%"><feGaussianBlur stdDeviation="0.8"/></filter><filter id="b10" x="-50%" y="-50%" width="200%" height="200%"><feGaussianBlur stdDeviation="1.0"/></filter><filter id="b12" x="-50%" y="-50%" width="200%" height="200%"><feGaussianBlur stdDeviation="1.2"/></filter><filter id="b14" x="-50%" y="-50%" width="200%" height="200%"><feGaussianBlur stdDeviation="1.4"/></filter><filter id="b16" x="-50%" y="-50%" width="200%" height="200%"><feGaussianBlur stdDeviation="1.6"/></filter><filter id="b20" x="-50%" y="-50%" width="200%" height="200%"><feGaussianBlur stdDeviation="2.0"/></filter><filter id="b22" x="-50%" y="-50%" width="200%" height="200%"><feGaussianBlur stdDeviation="2.2"/></filter></defs>
<rect x="410.5" y="290" width="24" height="16" rx="7" ry="7" fill="#2a1c1e" opacity="1.0" filter="url(#b16)"/>
<rect x="439.5" y="295" width="22" height="9.5" rx="4.75" ry="4.75" fill="#2a2025" opacity="0.95" filter="url(#b14)"/>
<rect x="410.5" y="322.5" width="22.5" height="12" rx="5.5" ry="5.5" fill="#2a1e20" opacity="1.0" filter="url(#b14)"/>
<rect x="442" y="327.5" width="19" height="5" rx="2.5" ry="2.5" fill="#305068" opacity="0.7" filter="url(#b16)"/>
<rect x="408.5" y="357.5" width="24.5" height="10.5" rx="4" ry="4" fill="#2a2a30" opacity="0.9" filter="url(#b20)"/>
<rect x="440" y="359.5" width="24.5" height="7.5" rx="3.5" ry="3.5" fill="#2a3038" opacity="0.85" filter="url(#b20)"/>
<defs><linearGradient id="gr3" x1="0" x2="1" y1="0" y2="0"><stop offset="0" stop-color="#1a2630" stop-opacity="0"/><stop offset="0.6" stop-color="#1a2630" stop-opacity="0.5"/><stop offset="1" stop-color="#151d25" stop-opacity="0.95"/></linearGradient><linearGradient id="gr3b" x1="0" x2="0" y1="0" y2="1"><stop offset="0" stop-color="#203848" stop-opacity="0"/><stop offset="1" stop-color="#203848" stop-opacity="0.6"/></linearGradient></defs>
<rect x="462" y="348.2" width="7.5" height="26.4" fill="url(#gr3)"/>
<rect x="402.5" y="370" width="67" height="4.6" fill="url(#gr3b)"/>
<rect x="416" y="389" width="16" height="4" rx="2.0" ry="2.0" fill="#2c5c78" opacity="0.55" filter="url(#b16)"/>
<rect x="444" y="390" width="16" height="4" rx="2.0" ry="2.0" fill="#2c5c78" opacity="0.45" filter="url(#b16)"/>
<rect x="410" y="418.5" width="23" height="10" rx="4.5" ry="4.5" fill="#28323a" opacity="0.85" filter="url(#b20)"/>
<rect x="441" y="418.5" width="23.5" height="10" rx="4.5" ry="4.5" fill="#28323a" opacity="0.8" filter="url(#b20)"/>
<text x="4.4" y="482.8" font-size="18" text-anchor="start" font-weight="bold" fill="#000">E</text>
<line x1="50.50" y1="506.60" x2="50.50" y2="599.00" stroke="#bbb" stroke-width="0.8"/>
<line x1="50.50" y1="599.00" x2="147.50" y2="599.00" stroke="#ccc" stroke-width="0.8"/>
<text x="40.6" y="602.6" font-size="10" text-anchor="end" font-weight="normal" fill="#000">0</text>
<line x1="46.50" y1="599.00" x2="50.50" y2="599.00" stroke="#bbb" stroke-width="0.7"/>
<text x="40.6" y="587.2" font-size="10" text-anchor="end" font-weight="normal" fill="#000">0.2</text>
<line x1="46.50" y1="583.60" x2="50.50" y2="583.60" stroke="#bbb" stroke-width="0.7"/>
<text x="40.6" y="571.8000000000001" font-size="10" text-anchor="end" font-weight="normal" fill="#000">0.4</text>
<line x1="46.50" y1="568.20" x2="50.50" y2="568.20" stroke="#bbb" stroke-width="0.7"/>
<text x="40.6" y="556.4" font-size="10" text-anchor="end" font-weight="normal" fill="#000">0.6</text>
<line x1="46.50" y1="552.80" x2="50.50" y2="552.80" stroke="#bbb" stroke-width="0.7"/>
<text x="40.6" y="541.0" font-size="10" text-anchor="end" font-weight="normal" fill="#000">0.8</text>
<line x1="46.50" y1="537.40" x2="50.50" y2="537.40" stroke="#bbb" stroke-width="0.7"/>
<text x="40.6" y="525.6" font-size="10" text-anchor="end" font-weight="normal" fill="#000">1</text>
<line x1="46.50" y1="522.00" x2="50.50" y2="522.00" stroke="#bbb" stroke-width="0.7"/>
<text x="40.6" y="510.2" font-size="10" text-anchor="end" font-weight="normal" fill="#000">1.2</text>
<line x1="46.50" y1="506.60" x2="50.50" y2="506.60" stroke="#bbb" stroke-width="0.7"/>
<text x="94" y="499" font-size="10" text-anchor="middle" font-weight="normal" fill="#000">pSmad1/Smad1</text>
<line x1="75.50" y1="528.16" x2="75.50" y2="512.76" stroke="#333" stroke-width="1.0"/>
<line x1="72.00" y1="512.76" x2="79.00" y2="512.76" stroke="#333" stroke-width="1.5"/>
<rect x="65.50" y="528.16" width="20.00" height="70.84" fill="#9999ee" stroke="#7777cc" stroke-width="0.7"/>
<line x1="123.30" y1="547.02" x2="123.30" y2="532.78" stroke="#333" stroke-width="1.0"/>
<line x1="119.80" y1="532.78" x2="126.80" y2="532.78" stroke="#333" stroke-width="1.5"/>
<rect x="113.30" y="547.02" width="20.00" height="51.98" fill="#993366" stroke="#6a2040" stroke-width="0.7"/>
<text x="123.3" y="528.78" font-size="9" text-anchor="middle" font-weight="bold" fill="#000">*</text>
<text x="74.0" y="612" font-size="10.2" text-anchor="middle" font-weight="normal" fill="#000">WT</text>
<text x="121.8" y="612" font-size="10.2" text-anchor="middle" font-weight="normal" fill="#000">Null</text>
<text x="18.5" y="557" font-size="11.1" text-anchor="middle" font-weight="normal" fill="#000" transform="rotate(-90 18.5 557)">Normalized levels</text>
<line x1="201.60" y1="506.60" x2="201.60" y2="599.00" stroke="#bbb" stroke-width="0.8"/>
<line x1="201.60" y1="599.00" x2="298.60" y2="599.00" stroke="#ccc" stroke-width="0.8"/>
<text x="190.7" y="602.6" font-size="10" text-anchor="end" font-weight="normal" fill="#000">0</text>
<line x1="197.60" y1="599.00" x2="201.60" y2="599.00" stroke="#bbb" stroke-width="0.7"/>
<text x="190.7" y="587.2" font-size="10" text-anchor="end" font-weight="normal" fill="#000">0.2</text>
<line x1="197.60" y1="583.60" x2="201.60" y2="583.60" stroke="#bbb" stroke-width="0.7"/>
<text x="190.7" y="571.8000000000001" font-size="10" text-anchor="end" font-weight="normal" fill="#000">0.4</text>
<line x1="197.60" y1="568.20" x2="201.60" y2="568.20" stroke="#bbb" stroke-width="0.7"/>
<text x="190.7" y="556.4" font-size="10" text-anchor="end" font-weight="normal" fill="#000">0.6</text>
<line x1="197.60" y1="552.80" x2="201.60" y2="552.80" stroke="#bbb" stroke-width="0.7"/>
<text x="190.7" y="541.0" font-size="10" text-anchor="end" font-weight="normal" fill="#000">0.8</text>
<line x1="197.60" y1="537.40" x2="201.60" y2="537.40" stroke="#bbb" stroke-width="0.7"/>
<text x="190.7" y="525.6" font-size="10" text-anchor="end" font-weight="normal" fill="#000">1</text>
<line x1="197.60" y1="522.00" x2="201.60" y2="522.00" stroke="#bbb" stroke-width="0.7"/>
<text x="190.7" y="510.2" font-size="10" text-anchor="end" font-weight="normal" fill="#000">1.2</text>
<line x1="197.60" y1="506.60" x2="201.60" y2="506.60" stroke="#bbb" stroke-width="0.7"/>
<text x="245" y="499" font-size="10" text-anchor="middle" font-weight="normal" fill="#000">pSmad2/Smad2</text>
<line x1="225.60" y1="526.24" x2="225.60" y2="515.07" stroke="#333" stroke-width="1.0"/>
<line x1="222.10" y1="515.07" x2="229.10" y2="515.07" stroke="#333" stroke-width="1.5"/>
<rect x="215.60" y="526.24" width="20.00" height="72.76" fill="#9999ee" stroke="#7777cc" stroke-width="0.7"/>
<line x1="275.30" y1="522.77" x2="275.30" y2="511.99" stroke="#333" stroke-width="1.0"/>
<line x1="271.80" y1="511.99" x2="278.80" y2="511.99" stroke="#333" stroke-width="1.5"/>
<rect x="265.30" y="522.77" width="20.00" height="76.23" fill="#993366" stroke="#6a2040" stroke-width="0.7"/>
<text x="224.1" y="612" font-size="10.2" text-anchor="middle" font-weight="normal" fill="#000">WT</text>
<text x="273.8" y="612" font-size="10.2" text-anchor="middle" font-weight="normal" fill="#000">Null</text>
<text x="167.2" y="557" font-size="11.1" text-anchor="middle" font-weight="normal" fill="#000" transform="rotate(-90 167.2 557)">Normalized levels</text>
<text x="322.2" y="484.2" font-size="17.5" text-anchor="start" font-weight="bold" fill="#000">F</text>
<line x1="355.30" y1="506.61" x2="355.30" y2="598.20" stroke="#bbb" stroke-width="0.8"/>
<text x="351" y="601.9000000000001" font-size="10.2" text-anchor="end" font-weight="normal" fill="#000">0</text>
<line x1="352.00" y1="598.20" x2="355.30" y2="598.20" stroke="#bbb" stroke-width="0.7"/>
<text x="351" y="586.6350000000001" font-size="10.2" text-anchor="end" font-weight="normal" fill="#000">0.5</text>
<line x1="352.00" y1="582.94" x2="355.30" y2="582.94" stroke="#bbb" stroke-width="0.7"/>
<text x="351" y="571.3700000000001" font-size="10.2" text-anchor="end" font-weight="normal" fill="#000">1</text>
<line x1="352.00" y1="567.67" x2="355.30" y2="567.67" stroke="#bbb" stroke-width="0.7"/>
<text x="351" y="556.1050000000001" font-size="10.2" text-anchor="end" font-weight="normal" fill="#000">1.5</text>
<line x1="352.00" y1="552.41" x2="355.30" y2="552.41" stroke="#bbb" stroke-width="0.7"/>
<text x="351" y="540.8400000000001" font-size="10.2" text-anchor="end" font-weight="normal" fill="#000">2</text>
<line x1="352.00" y1="537.14" x2="355.30" y2="537.14" stroke="#bbb" stroke-width="0.7"/>
<text x="351" y="525.575" font-size="10.2" text-anchor="end" font-weight="normal" fill="#000">2.5</text>
<line x1="352.00" y1="521.88" x2="355.30" y2="521.88" stroke="#bbb" stroke-width="0.7"/>
<text x="351" y="510.31" font-size="10.2" text-anchor="end" font-weight="normal" fill="#000">3</text>
<line x1="352.00" y1="506.61" x2="355.30" y2="506.61" stroke="#bbb" stroke-width="0.7"/>
<line x1="355.30" y1="598.20" x2="465.80" y2="598.20" stroke="#222" stroke-width="1.0"/>
<text x="332" y="553.5" font-size="11" text-anchor="middle" font-weight="normal" fill="#000" transform="rotate(-90 332 553.5)">Relative Expression</text>
<line x1="378.40" y1="566.75" x2="378.40" y2="561.56" stroke="#222" stroke-width="1.0"/>
<line x1="375.40" y1="561.56" x2="381.40" y2="561.56" stroke="#222" stroke-width="1.4"/>
<rect x="371.00" y="566.75" width="14.80" height="31.45" fill="#9999ff" stroke="#1a1a60" stroke-width="1"/>
<line x1="393.40" y1="535.61" x2="393.40" y2="521.88" stroke="#222" stroke-width="1.0"/>
<line x1="390.40" y1="521.88" x2="396.40" y2="521.88" stroke="#222" stroke-width="1.4"/>
<rect x="385.80" y="535.61" width="15.20" height="62.59" fill="#993366" stroke="#3a1020" stroke-width="1"/>
<text x="393.40000000000003" y="519.875" font-size="9" text-anchor="middle" font-weight="bold" fill="#000">*</text>
<line x1="432.90" y1="567.36" x2="432.90" y2="562.79" stroke="#222" stroke-width="1.0"/>
<line x1="429.90" y1="562.79" x2="435.90" y2="562.79" stroke="#222" stroke-width="1.4"/>
<rect x="425.40" y="567.36" width="15.00" height="30.84" fill="#9999ff" stroke="#1a1a60" stroke-width="1"/>
<line x1="447.90" y1="535.31" x2="447.90" y2="525.23" stroke="#222" stroke-width="1.0"/>
<line x1="444.90" y1="525.23" x2="450.90" y2="525.23" stroke="#222" stroke-width="1.4"/>
<rect x="440.40" y="535.31" width="15.00" height="62.89" fill="#993366" stroke="#3a1020" stroke-width="1"/>
<text x="447.9" y="523.2333000000001" font-size="9" text-anchor="middle" font-weight="bold" fill="#000">**</text>
<text x="387.6" y="613" font-size="10.2" text-anchor="middle" font-weight="normal" fill="#000">Col2a1</text>
<text x="440.5" y="613" font-size="10.2" text-anchor="middle" font-weight="normal" fill="#000">Col4a1</text>
<rect x="477.40" y="541.20" width="39.90" height="35.30" fill="#fff" stroke="#000" stroke-width="1"/>
<rect x="485.00" y="549.30" width="5.50" height="5.70" fill="#9999ff" stroke="#333" stroke-width="0.8"/>
<rect x="485.00" y="565.00" width="5.50" height="5.50" fill="#993366" stroke="#333" stroke-width="0.8"/>
<text x="493" y="554.8" font-size="9" text-anchor="start" font-weight="normal" fill="#000">WT</text>
<text x="493" y="570.2" font-size="9" text-anchor="start" font-weight="normal" fill="#000">Null</text></svg></body></html>
